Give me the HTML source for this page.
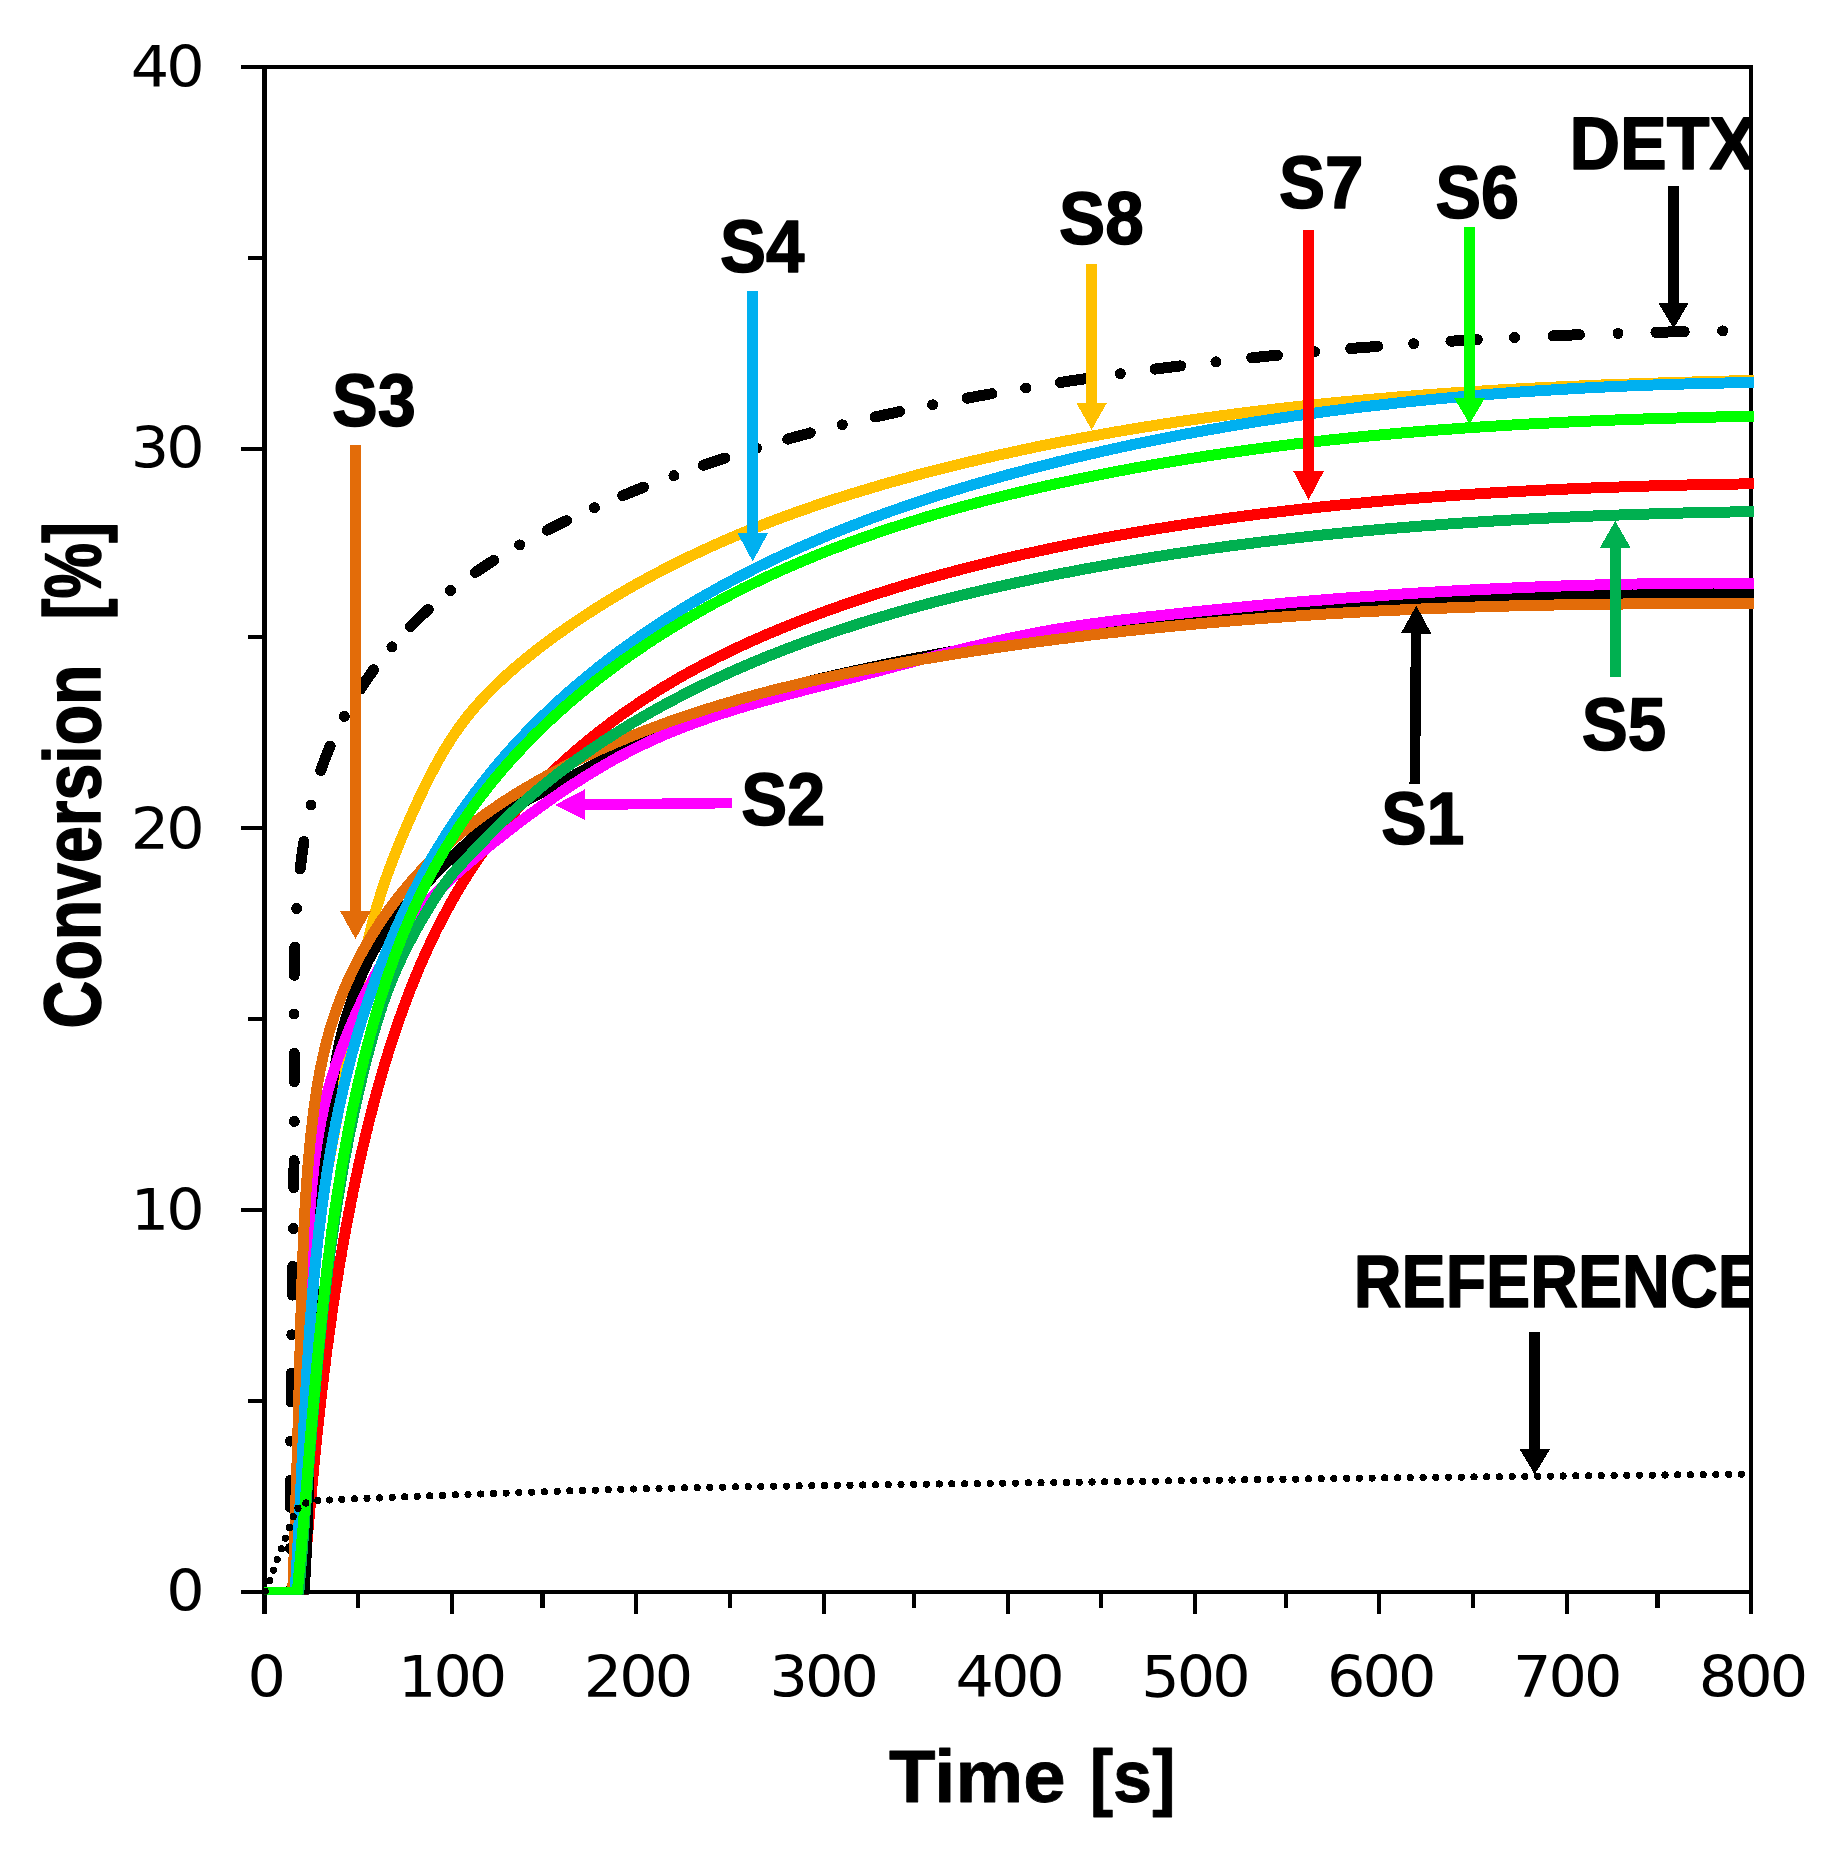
<!DOCTYPE html>
<html lang="en"><head><meta charset="utf-8"><title>Conversion vs Time</title>
<style>html,body{margin:0;padding:0;background:#fff}svg{display:block}</style></head>
<body>
<svg width="1833" height="1857" viewBox="0 0 1833 1857" shape-rendering="crispEdges">
<defs><clipPath id="pc"><rect x="263.8" y="60" width="1490.2" height="1534.8"/></clipPath></defs>
<rect width="1833" height="1857" fill="#fff"/>
<g fill="#000">
<rect x="262" y="65" width="5" height="1549"/>
<rect x="1749" y="65" width="4" height="1549"/>
<rect x="241" y="65" width="1512" height="4"/>
<rect x="241" y="1590" width="1512" height="4"/>
<rect x="241" y="447" width="22" height="4"/>
<rect x="241" y="826" width="22" height="4"/>
<rect x="241" y="1208" width="22" height="4"/>
<rect x="248" y="256" width="15" height="4"/>
<rect x="248" y="635" width="15" height="4"/>
<rect x="248" y="1017" width="15" height="4"/>
<rect x="248" y="1399" width="15" height="4"/>
<rect x="450" y="1592" width="4" height="22"/>
<rect x="634" y="1592" width="4" height="22"/>
<rect x="822" y="1592" width="4" height="22"/>
<rect x="1006" y="1592" width="4" height="22"/>
<rect x="1193" y="1592" width="4" height="22"/>
<rect x="1377" y="1592" width="4" height="22"/>
<rect x="1565" y="1592" width="4" height="22"/>
<rect x="356" y="1592" width="4" height="16"/>
<rect x="540" y="1592" width="5" height="16"/>
<rect x="728" y="1592" width="4" height="16"/>
<rect x="912" y="1592" width="4" height="16"/>
<rect x="1099" y="1592" width="4" height="16"/>
<rect x="1284" y="1592" width="4" height="16"/>
<rect x="1471" y="1592" width="4" height="16"/>
<rect x="1655" y="1592" width="5" height="16"/>
</g>
<g clip-path="url(#pc)">
<g fill="none" stroke="#000" stroke-width="11" stroke-linecap="round" stroke-linejoin="round">
<path d="M290.8,1590.1 L290.8,1589.5"/>
<path d="M290.3,1507.3 L290.3,1502.5 L290.3,1497.7 L290.3,1492.9 L290.3,1488.1 L290.4,1483.2 L290.4,1480.2"/>
<path d="M291.0,1402.0 L291.0,1397.2 L291.1,1392.4 L291.1,1387.6 L291.2,1382.8 L291.3,1378.0 L291.3,1373.2"/>
<path d="M292.4,1295.1 L292.5,1290.3 L292.5,1285.5 L292.6,1280.7 L292.7,1275.9 L292.8,1271.1 L292.8,1266.3"/>
<path d="M293.8,1187.6 L293.8,1182.8 L293.9,1178.0 L293.9,1173.2 L294.0,1168.4 L294.0,1163.6 L294.0,1160.6"/>
<path d="M294.3,1081.7 L294.3,1076.8 L294.3,1072.0 L294.3,1067.2 L294.2,1062.3 L294.2,1057.5 L294.2,1053.3"/>
<path d="M294.2,975.3 L294.3,970.5 L294.4,965.7 L294.5,960.9 L294.6,956.0 L294.7,951.2 L294.9,947.0"/>
<path d="M300.2,868.9 L300.8,864.1 L301.4,859.3 L302.0,854.6 L302.7,849.8 L303.4,845.0 L303.9,841.5"/>
<path d="M320.9,770.5 L322.4,766.0 L324.0,761.5 L325.7,757.1 L327.5,752.6 L329.3,748.2 L330.2,746.0"/>
<path d="M360.4,689.1 L363.0,685.1 L365.7,681.1 L368.4,677.1 L371.2,673.2 L373.6,669.8"/>
<path d="M410.5,626.5 L413.8,623.1 L417.3,619.7 L420.7,616.4 L424.2,613.1 L427.7,609.9 L428.2,609.5"/>
<path d="M475.2,572.5 L479.2,569.8 L483.2,567.2 L487.2,564.5 L491.3,561.9 L493.8,560.3"/>
<path d="M547.4,530.1 L551.8,527.9 L556.1,525.7 L560.5,523.6 L564.8,521.5 L566.5,520.7"/>
<path d="M622.8,495.6 L627.3,493.8 L631.8,491.9 L636.2,490.1 L640.7,488.3 L643.5,487.2"/>
<path d="M703.4,465.2 L707.9,463.7 L712.5,462.1 L717.1,460.6 L721.6,459.1 L725.0,458.0"/>
<path d="M787.7,439.1 L792.4,437.8 L797.0,436.5 L801.6,435.3 L806.3,434.0 L810.3,432.9"/>
<path d="M875.1,417.0 L879.8,416.0 L884.5,414.9 L889.2,413.9 L893.9,412.9 L898.6,411.8 L899.7,411.6"/>
<path d="M967.0,398.2 L971.7,397.3 L976.4,396.4 L981.2,395.6 L985.9,394.7 L990.7,393.9 L991.9,393.7"/>
<path d="M1060.2,382.5 L1064.9,381.8 L1069.7,381.0 L1074.5,380.3 L1079.2,379.6 L1084.0,378.9 L1085.8,378.6"/>
<path d="M1155.0,369.1 L1159.7,368.5 L1164.5,367.9 L1169.3,367.3 L1174.1,366.7 L1178.8,366.1 L1180.6,365.9"/>
<path d="M1251.8,357.8 L1256.6,357.3 L1261.4,356.8 L1266.2,356.3 L1271.0,355.8 L1275.7,355.4 L1277.5,355.2"/>
<path d="M1350.7,348.5 L1355.5,348.1 L1360.3,347.7 L1365.1,347.3 L1369.9,347.0 L1374.7,346.6 L1377.7,346.4"/>
<path d="M1450.9,341.2 L1455.7,340.9 L1460.5,340.6 L1465.3,340.4 L1470.1,340.1 L1474.9,339.8 L1477.3,339.6"/>
<path d="M1553.1,335.8 L1557.9,335.6 L1562.7,335.4 L1567.5,335.2 L1572.3,335.0 L1577.1,334.8 L1579.5,334.8"/>
<path d="M1655.9,332.3 L1660.7,332.2 L1665.5,332.1 L1670.4,331.9 L1675.2,331.8 L1680.0,331.7 L1684.2,331.6"/>
<path d="M1760.0,330.5 L1760.0,330.5"/>
</g>
<g fill="#000">
<circle cx="290.4" cy="1548.4" r="5.5"/>
<circle cx="290.6" cy="1441.1" r="5.5"/>
<circle cx="291.8" cy="1334.8" r="5.5"/>
<circle cx="293.3" cy="1228.5" r="5.5"/>
<circle cx="294.3" cy="1121.4" r="5.5"/>
<circle cx="294.0" cy="1014.0" r="5.5"/>
<circle cx="296.7" cy="908.5" r="5.5"/>
<circle cx="311.1" cy="805.0" r="5.5"/>
<circle cx="344.3" cy="716.4" r="5.5"/>
<circle cx="391.9" cy="646.8" r="5.5"/>
<circle cx="450.6" cy="590.6" r="5.5"/>
<circle cx="519.7" cy="544.9" r="5.5"/>
<circle cx="594.5" cy="507.8" r="5.5"/>
<circle cx="673.9" cy="475.7" r="5.5"/>
<circle cx="756.6" cy="448.1" r="5.5"/>
<circle cx="842.3" cy="424.8" r="5.5"/>
<circle cx="932.7" cy="404.8" r="5.5"/>
<circle cx="1025.7" cy="388.0" r="5.5"/>
<circle cx="1120.3" cy="373.7" r="5.5"/>
<circle cx="1215.9" cy="361.8" r="5.5"/>
<circle cx="1314.7" cy="351.7" r="5.5"/>
<circle cx="1413.7" cy="343.7" r="5.5"/>
<circle cx="1514.6" cy="337.6" r="5.5"/>
<circle cx="1618.0" cy="333.4" r="5.5"/>
<circle cx="1722.7" cy="330.9" r="5.5"/>
</g>
<g fill="none" stroke-width="11" stroke-linejoin="round" stroke-linecap="butt" shape-rendering="crispEdges">
<path d="M264.0,1592.0 L293.0,1592.0 L293.5,1592.0 L294.0,1587.4 L294.4,1582.9 L294.8,1578.4 L295.2,1573.9 L295.6,1569.4 L296.0,1564.8 L296.3,1560.3 L296.7,1555.8 L297.0,1551.3 L297.4,1546.7 L297.7,1542.2 L298.0,1537.7 L298.3,1533.1 L298.6,1528.6 L298.8,1524.1 L299.1,1519.5 L299.4,1515.0 L299.6,1510.4 L299.9,1505.9 L300.1,1501.4 L300.3,1496.8 L300.6,1492.3 L300.8,1487.7 L301.0,1483.2 L301.2,1478.7 L301.4,1474.1 L301.6,1469.6 L301.8,1465.0 L302.0,1460.5 L302.2,1455.9 L302.4,1451.4 L302.6,1446.9 L302.8,1442.3 L303.0,1437.8 L303.2,1433.2 L303.3,1428.7 L303.5,1424.1 L303.7,1419.6 L303.9,1415.0 L304.1,1410.5 L304.3,1406.0 L304.5,1401.4 L304.7,1396.9 L304.9,1392.3 L305.1,1387.8 L305.3,1383.2 L305.5,1378.7 L305.7,1374.2 L306.0,1369.6 L306.2,1365.1 L306.4,1360.5 L306.7,1356.0 L306.9,1351.5 L307.2,1346.9 L307.4,1342.4 L307.7,1337.8 L308.0,1333.3 L308.3,1328.8 L308.6,1324.2 L308.9,1319.7 L309.2,1315.2 L309.6,1310.7 L309.9,1306.1 L310.3,1301.6 L310.6,1297.1 L311.0,1292.5 L311.4,1288.0 L311.8,1283.5 L312.3,1279.0 L312.7,1274.5 L313.1,1270.0 L313.6,1265.4 L314.1,1260.9 L314.6,1256.4 L315.1,1251.9 L315.7,1247.4 L316.2,1242.9 L316.8,1238.4 L317.4,1233.9 L318.0,1229.4 L318.6,1224.9 L319.2,1220.4 L319.9,1215.9 L320.6,1211.4 L321.3,1206.9 L322.0,1202.4 L322.7,1198.0 L323.4,1193.5 L324.2,1189.0 L324.9,1184.5 L325.7,1180.0 L326.5,1175.5 L327.3,1171.1 L328.1,1166.6 L328.9,1162.1 L329.7,1157.6 L330.5,1153.2 L331.3,1148.7 L332.1,1144.2 L333.0,1139.7 L333.8,1135.3 L334.6,1130.8 L335.5,1126.3 L336.3,1121.8 L337.2,1117.4 L338.0,1112.9 L338.8,1108.4 L339.6,1103.9 L340.5,1099.4 L341.3,1095.0 L342.1,1090.5 L342.9,1086.0 L343.7,1081.5 L344.5,1077.0 L345.3,1072.6 L346.1,1068.1 L346.8,1063.6 L347.6,1059.1 L348.3,1054.6 L349.1,1050.1 L349.8,1045.6 L350.5,1041.1 L351.2,1036.7 L351.9,1032.2 L352.6,1027.7 L353.3,1023.2 L354.0,1018.7 L354.7,1014.2 L355.4,1009.7 L356.1,1005.2 L356.8,1000.7 L357.6,996.3 L358.3,991.8 L359.0,987.3 L359.8,982.8 L360.6,978.4 L361.4,973.9 L362.2,969.5 L363.0,965.0 L363.9,960.6 L364.8,956.1 L365.7,951.7 L366.6,947.3 L367.6,942.9 L368.6,938.4 L369.6,934.0 L370.7,929.6 L371.8,925.3 L372.9,920.9 L374.1,916.5 L375.3,912.2 L376.5,907.8 L377.8,903.5 L379.2,899.1 L380.5,894.8 L381.9,890.5 L383.4,886.2 L384.8,881.9 L386.3,877.6 L387.8,873.3 L389.4,869.1 L391.0,864.8 L392.6,860.5 L394.2,856.3 L395.9,852.1 L397.6,847.8 L399.3,843.6 L401.0,839.4 L402.8,835.2 L404.6,831.0 L406.4,826.8 L408.2,822.6 L410.1,818.4 L411.9,814.2 L413.8,810.1 L415.7,805.9 L417.6,801.7 L419.5,797.6 L421.5,793.5 L423.4,789.3 L425.4,785.2 L427.5,781.1 L429.5,777.1 L431.6,773.0 L433.7,769.0 L435.9,765.0 L438.0,761.0 L440.3,757.0 L442.5,753.1 L444.8,749.2 L447.2,745.4 L449.6,741.5 L452.0,737.7 L454.5,734.0 L457.1,730.3 L459.7,726.6 L462.3,723.0 L465.1,719.4 L467.8,715.9 L470.7,712.4 L473.5,708.9 L476.5,705.5 L479.5,702.2 L482.5,698.8 L485.6,695.6 L488.7,692.3 L491.9,689.1 L495.1,685.9 L498.3,682.8 L501.6,679.7 L504.9,676.6 L508.3,673.6 L511.7,670.6 L515.1,667.6 L518.6,664.6 L522.1,661.7 L525.6,658.8 L529.1,656.0 L532.7,653.1 L536.3,650.3 L539.9,647.5 L543.5,644.8 L547.2,642.0 L550.9,639.3 L554.5,636.6 L558.2,633.9 L562.0,631.3 L565.7,628.6 L569.4,626.0 L573.2,623.4 L577.0,620.9 L580.8,618.3 L584.6,615.8 L588.4,613.3 L592.2,610.8 L596.1,608.3 L599.9,605.9 L603.8,603.5 L607.7,601.1 L611.6,598.7 L615.5,596.3 L619.4,594.0 L623.3,591.7 L627.2,589.4 L631.2,587.2 L635.1,584.9 L639.1,582.7 L643.1,580.5 L647.1,578.3 L651.1,576.1 L655.1,574.0 L659.1,571.9 L663.1,569.8 L667.1,567.7 L671.2,565.6 L675.2,563.6 L679.3,561.6 L683.4,559.6 L687.5,557.6 L691.6,555.6 L695.7,553.7 L699.8,551.8 L703.9,549.8 L708.0,548.0 L712.1,546.1 L716.3,544.2 L720.4,542.4 L724.6,540.6 L728.7,538.8 L732.9,537.0 L737.1,535.2 L741.3,533.5 L745.5,531.8 L749.7,530.1 L753.9,528.4 L758.1,526.7 L762.3,525.0 L766.6,523.4 L770.8,521.7 L775.0,520.1 L779.3,518.5 L783.5,517.0 L787.8,515.4 L792.1,513.8 L796.3,512.3 L800.6,510.8 L804.9,509.3 L809.2,507.8 L813.5,506.3 L817.8,504.8 L822.1,503.4 L826.4,502.0 L830.7,500.5 L835.1,499.1 L839.4,497.7 L843.7,496.4 L848.1,495.0 L852.4,493.6 L856.8,492.3 L861.1,491.0 L865.5,489.7 L869.8,488.4 L874.2,487.1 L878.6,485.8 L882.9,484.5 L887.3,483.3 L891.7,482.0 L896.1,480.8 L900.4,479.6 L904.8,478.4 L909.2,477.2 L913.6,476.0 L918.0,474.8 L922.4,473.6 L926.8,472.5 L931.2,471.3 L935.6,470.2 L940.0,469.1 L944.4,468.0 L948.9,466.9 L953.3,465.8 L957.7,464.7 L962.1,463.6 L966.5,462.5 L970.9,461.5 L975.4,460.4 L979.8,459.4 L984.2,458.4 L988.7,457.3 L993.1,456.3 L997.5,455.3 L1002.0,454.3 L1006.4,453.4 L1010.8,452.4 L1015.3,451.4 L1019.7,450.5 L1024.2,449.5 L1028.6,448.6 L1033.0,447.6 L1037.5,446.7 L1041.9,445.8 L1046.4,444.9 L1050.8,444.0 L1055.3,443.1 L1059.8,442.2 L1064.2,441.3 L1068.7,440.5 L1073.1,439.6 L1077.6,438.8 L1082.1,437.9 L1086.5,437.1 L1091.0,436.3 L1095.5,435.5 L1099.9,434.7 L1104.4,433.9 L1108.9,433.1 L1113.3,432.3 L1117.8,431.5 L1122.3,430.8 L1126.8,430.0 L1131.2,429.2 L1135.7,428.5 L1140.2,427.8 L1144.7,427.0 L1149.2,426.3 L1153.7,425.6 L1158.1,424.9 L1162.6,424.2 L1167.1,423.5 L1171.6,422.8 L1176.1,422.1 L1180.6,421.5 L1185.1,420.8 L1189.6,420.2 L1194.1,419.5 L1198.6,418.9 L1203.1,418.2 L1207.6,417.6 L1212.1,417.0 L1216.6,416.4 L1221.1,415.8 L1225.6,415.2 L1230.1,414.6 L1234.6,414.0 L1239.1,413.4 L1243.6,412.8 L1248.1,412.3 L1252.6,411.7 L1257.1,411.2 L1261.6,410.6 L1266.2,410.1 L1270.7,409.5 L1275.2,409.0 L1279.7,408.5 L1284.2,408.0 L1288.7,407.5 L1293.3,407.0 L1297.8,406.5 L1302.3,406.0 L1306.8,405.5 L1311.3,405.0 L1315.9,404.6 L1320.4,404.1 L1324.9,403.6 L1329.4,403.2 L1333.9,402.7 L1338.5,402.3 L1343.0,401.9 L1347.5,401.4 L1352.1,401.0 L1356.6,400.6 L1361.1,400.2 L1365.6,399.8 L1370.2,399.3 L1374.7,399.0 L1379.2,398.6 L1383.8,398.2 L1388.3,397.8 L1392.8,397.4 L1397.4,397.0 L1401.9,396.7 L1406.4,396.3 L1411.0,396.0 L1415.5,395.6 L1420.0,395.3 L1424.6,394.9 L1429.1,394.6 L1433.6,394.3 L1438.2,393.9 L1442.7,393.6 L1447.2,393.3 L1451.8,393.0 L1456.3,392.7 L1460.9,392.4 L1465.4,392.1 L1469.9,391.8 L1474.5,391.5 L1479.0,391.2 L1483.6,390.9 L1488.1,390.6 L1492.6,390.4 L1497.2,390.1 L1501.7,389.8 L1506.3,389.6 L1510.8,389.3 L1515.3,389.1 L1519.9,388.8 L1524.4,388.6 L1529.0,388.3 L1533.5,388.1 L1538.1,387.9 L1542.6,387.6 L1547.1,387.4 L1551.7,387.2 L1556.2,387.0 L1560.8,386.8 L1565.3,386.6 L1569.9,386.4 L1574.4,386.1 L1578.9,386.0 L1583.5,385.8 L1588.0,385.6 L1592.6,385.4 L1597.1,385.2 L1601.7,385.0 L1606.2,384.8 L1610.7,384.7 L1615.3,384.5 L1619.8,384.3 L1624.4,384.1 L1628.9,384.0 L1633.4,383.8 L1638.0,383.7 L1642.5,383.5 L1647.1,383.4 L1651.6,383.2 L1656.1,383.1 L1660.7,382.9 L1665.2,382.8 L1669.8,382.6 L1674.3,382.5 L1678.8,382.4 L1683.4,382.2 L1687.9,382.1 L1692.4,382.0 L1697.0,381.9 L1701.5,381.7 L1706.1,381.6 L1710.6,381.5 L1715.1,381.4 L1719.7,381.3 L1724.2,381.2 L1728.7,381.0 L1733.3,380.9 L1737.8,380.8 L1742.3,380.7 L1746.9,380.6 L1751.4,380.5 L1755.9,380.4" stroke="#FFC000"/>
<path d="M264.0,1592.0 L302.3,1592.0 L302.8,1591.8 L303.2,1587.5 L303.5,1583.3 L303.9,1579.0 L304.2,1574.7 L304.6,1570.5 L304.9,1566.2 L305.3,1561.9 L305.7,1557.7 L306.0,1553.4 L306.4,1549.2 L306.7,1544.9 L307.1,1540.6 L307.5,1536.4 L307.8,1532.1 L308.2,1527.8 L308.6,1523.6 L309.0,1519.3 L309.3,1515.0 L309.7,1510.8 L310.1,1506.5 L310.5,1502.3 L310.9,1498.0 L311.3,1493.7 L311.7,1489.5 L312.1,1485.2 L312.5,1481.0 L312.9,1476.7 L313.3,1472.5 L313.7,1468.2 L314.1,1463.9 L314.5,1459.7 L314.9,1455.4 L315.4,1451.2 L315.8,1446.9 L316.2,1442.7 L316.7,1438.4 L317.1,1434.2 L317.6,1429.9 L318.0,1425.7 L318.5,1421.4 L318.9,1417.2 L319.4,1412.9 L319.9,1408.7 L320.3,1404.4 L320.8,1400.2 L321.3,1395.9 L321.8,1391.7 L322.3,1387.4 L322.8,1383.2 L323.3,1378.9 L323.8,1374.7 L324.3,1370.4 L324.9,1366.2 L325.4,1362.0 L325.9,1357.7 L326.5,1353.5 L327.0,1349.2 L327.6,1345.0 L328.2,1340.8 L328.7,1336.5 L329.3,1332.3 L329.9,1328.0 L330.5,1323.8 L331.1,1319.6 L331.7,1315.3 L332.3,1311.1 L332.9,1306.9 L333.5,1302.6 L334.2,1298.4 L334.8,1294.2 L335.5,1290.0 L336.1,1285.7 L336.8,1281.5 L337.5,1277.3 L338.2,1273.0 L338.8,1268.8 L339.5,1264.6 L340.3,1260.4 L341.0,1256.2 L341.7,1251.9 L342.4,1247.7 L343.2,1243.5 L343.9,1239.3 L344.7,1235.1 L345.5,1230.8 L346.2,1226.6 L347.0,1222.4 L347.8,1218.2 L348.6,1214.0 L349.5,1209.8 L350.3,1205.6 L351.1,1201.4 L352.0,1197.2 L352.8,1193.0 L353.7,1188.7 L354.6,1184.5 L355.5,1180.3 L356.4,1176.1 L357.3,1171.9 L358.2,1167.7 L359.1,1163.5 L360.1,1159.3 L361.0,1155.1 L362.0,1150.9 L362.9,1146.8 L363.9,1142.6 L364.9,1138.4 L365.9,1134.2 L367.0,1130.0 L368.0,1125.8 L369.0,1121.6 L370.1,1117.4 L371.2,1113.2 L372.2,1109.1 L373.3,1104.9 L374.4,1100.7 L375.6,1096.5 L376.7,1092.4 L377.8,1088.2 L379.0,1084.0 L380.2,1079.9 L381.4,1075.7 L382.6,1071.6 L383.8,1067.4 L385.0,1063.3 L386.3,1059.2 L387.6,1055.0 L388.8,1050.9 L390.1,1046.8 L391.5,1042.7 L392.8,1038.6 L394.1,1034.5 L395.5,1030.4 L396.9,1026.3 L398.3,1022.2 L399.7,1018.2 L401.2,1014.1 L402.6,1010.1 L404.1,1006.0 L405.6,1002.0 L407.1,998.0 L408.6,994.0 L410.2,990.0 L411.8,986.0 L413.4,982.0 L415.0,978.0 L416.6,974.0 L418.3,970.1 L419.9,966.2 L421.6,962.2 L423.4,958.3 L425.1,954.4 L426.9,950.5 L428.7,946.6 L430.5,942.8 L432.3,938.9 L434.1,935.1 L436.0,931.2 L437.9,927.4 L439.9,923.6 L441.8,919.8 L443.8,916.1 L445.8,912.3 L447.8,908.6 L449.8,904.9 L451.9,901.1 L454.0,897.5 L456.1,893.8 L458.3,890.1 L460.5,886.5 L462.7,882.8 L464.9,879.2 L467.2,875.6 L469.4,872.1 L471.8,868.5 L474.1,865.0 L476.5,861.4 L478.9,857.9 L481.3,854.5 L483.7,851.0 L486.2,847.6 L488.7,844.1 L491.3,840.7 L493.8,837.3 L496.4,834.0 L499.0,830.6 L501.7,827.3 L504.3,824.0 L507.0,820.7 L509.8,817.4 L512.5,814.2 L515.3,811.0 L518.1,807.8 L520.9,804.6 L523.8,801.4 L526.6,798.3 L529.5,795.1 L532.5,792.0 L535.4,788.9 L538.4,785.9 L541.4,782.8 L544.4,779.8 L547.4,776.8 L550.5,773.8 L553.6,770.9 L556.7,767.9 L559.8,765.0 L563.0,762.1 L566.1,759.3 L569.3,756.4 L572.5,753.6 L575.8,750.8 L579.0,748.0 L582.3,745.2 L585.6,742.5 L588.9,739.7 L592.2,737.0 L595.6,734.4 L599.0,731.7 L602.3,729.1 L605.7,726.5 L609.2,723.9 L612.6,721.3 L616.1,718.8 L619.5,716.2 L623.0,713.7 L626.5,711.3 L630.1,708.8 L633.6,706.4 L637.2,704.0 L640.7,701.6 L644.3,699.2 L647.9,696.9 L651.6,694.6 L655.2,692.3 L658.8,690.0 L662.5,687.7 L666.2,685.5 L669.9,683.3 L673.6,681.1 L677.3,679.0 L681.0,676.8 L684.8,674.7 L688.5,672.6 L692.3,670.6 L696.1,668.5 L699.9,666.5 L703.7,664.5 L707.5,662.5 L711.3,660.5 L715.2,658.5 L719.0,656.6 L722.9,654.7 L726.7,652.8 L730.6,650.9 L734.5,649.1 L738.4,647.2 L742.3,645.4 L746.2,643.6 L750.1,641.8 L754.1,640.1 L758.0,638.3 L762.0,636.6 L765.9,634.9 L769.9,633.2 L773.9,631.5 L777.9,629.9 L781.9,628.2 L785.8,626.6 L789.8,625.0 L793.9,623.4 L797.9,621.8 L801.9,620.2 L805.9,618.7 L810.0,617.1 L814.0,615.6 L818.0,614.1 L822.1,612.6 L826.1,611.1 L830.2,609.7 L834.2,608.2 L838.3,606.8 L842.4,605.3 L846.4,603.9 L850.5,602.5 L854.6,601.2 L858.7,599.8 L862.8,598.4 L866.8,597.1 L870.9,595.7 L875.0,594.4 L879.1,593.1 L883.2,591.8 L887.3,590.5 L891.4,589.2 L895.5,588.0 L899.6,586.7 L903.7,585.5 L907.8,584.2 L912.0,583.0 L916.1,581.8 L920.2,580.6 L924.3,579.4 L928.4,578.3 L932.6,577.1 L936.7,576.0 L940.8,574.8 L945.0,573.7 L949.1,572.6 L953.2,571.5 L957.4,570.4 L961.5,569.3 L965.7,568.2 L969.8,567.2 L974.0,566.1 L978.1,565.1 L982.3,564.0 L986.4,563.0 L990.6,562.0 L994.8,561.0 L998.9,560.0 L1003.1,559.0 L1007.3,558.0 L1011.4,557.1 L1015.6,556.1 L1019.8,555.2 L1023.9,554.2 L1028.1,553.3 L1032.3,552.4 L1036.5,551.5 L1040.7,550.6 L1044.9,549.7 L1049.0,548.8 L1053.2,547.9 L1057.4,547.0 L1061.6,546.2 L1065.8,545.3 L1070.0,544.5 L1074.2,543.7 L1078.4,542.8 L1082.6,542.0 L1086.8,541.2 L1091.0,540.4 L1095.2,539.6 L1099.4,538.8 L1103.6,538.0 L1107.8,537.3 L1112.0,536.5 L1116.2,535.8 L1120.4,535.0 L1124.7,534.3 L1128.9,533.5 L1133.1,532.8 L1137.3,532.1 L1141.5,531.4 L1145.8,530.7 L1150.0,530.0 L1154.2,529.3 L1158.4,528.6 L1162.6,527.9 L1166.9,527.2 L1171.1,526.6 L1175.3,525.9 L1179.6,525.3 L1183.8,524.6 L1188.0,524.0 L1192.2,523.3 L1196.5,522.7 L1200.7,522.1 L1204.9,521.5 L1209.2,520.9 L1213.4,520.3 L1217.7,519.7 L1221.9,519.1 L1226.1,518.5 L1230.4,517.9 L1234.6,517.3 L1238.9,516.8 L1243.1,516.2 L1247.4,515.7 L1251.6,515.1 L1255.9,514.6 L1260.1,514.0 L1264.3,513.5 L1268.6,513.0 L1272.8,512.5 L1277.1,512.0 L1281.4,511.5 L1285.6,511.0 L1289.9,510.5 L1294.1,510.0 L1298.4,509.5 L1302.6,509.0 L1306.9,508.5 L1311.1,508.1 L1315.4,507.6 L1319.7,507.1 L1323.9,506.7 L1328.2,506.3 L1332.4,505.8 L1336.7,505.4 L1341.0,504.9 L1345.2,504.5 L1349.5,504.1 L1353.8,503.7 L1358.0,503.3 L1362.3,502.9 L1366.5,502.5 L1370.8,502.1 L1375.1,501.7 L1379.4,501.3 L1383.6,500.9 L1387.9,500.6 L1392.2,500.2 L1396.4,499.8 L1400.7,499.5 L1405.0,499.1 L1409.2,498.8 L1413.5,498.4 L1417.8,498.1 L1422.1,497.8 L1426.3,497.4 L1430.6,497.1 L1434.9,496.8 L1439.2,496.5 L1443.4,496.2 L1447.7,495.8 L1452.0,495.5 L1456.3,495.2 L1460.5,495.0 L1464.8,494.7 L1469.1,494.4 L1473.4,494.1 L1477.7,493.8 L1481.9,493.6 L1486.2,493.3 L1490.5,493.0 L1494.8,492.8 L1499.1,492.5 L1503.3,492.3 L1507.6,492.0 L1511.9,491.8 L1516.2,491.5 L1520.5,491.3 L1524.7,491.1 L1529.0,490.8 L1533.3,490.6 L1537.6,490.4 L1541.9,490.2 L1546.2,490.0 L1550.4,489.8 L1554.7,489.6 L1559.0,489.4 L1563.3,489.2 L1567.6,489.0 L1571.9,488.8 L1576.1,488.6 L1580.4,488.4 L1584.7,488.3 L1589.0,488.1 L1593.3,487.9 L1597.6,487.7 L1601.8,487.6 L1606.1,487.4 L1610.4,487.3 L1614.7,487.1 L1619.0,487.0 L1623.3,486.8 L1627.5,486.7 L1631.8,486.5 L1636.1,486.4 L1640.4,486.3 L1644.7,486.1 L1649.0,486.0 L1653.2,485.9 L1657.5,485.8 L1661.8,485.6 L1666.1,485.5 L1670.4,485.4 L1674.7,485.3 L1678.9,485.2 L1683.2,485.1 L1687.5,485.0 L1691.8,484.9 L1696.1,484.8 L1700.3,484.7 L1704.6,484.6 L1708.9,484.5 L1713.2,484.5 L1717.5,484.4 L1721.8,484.3 L1726.0,484.2 L1730.3,484.1 L1734.6,484.1 L1738.9,484.0 L1743.1,483.9 L1747.4,483.9 L1751.7,483.8 L1756.0,483.8" stroke="#FF0000"/>
<path d="M264.0,1592.0 L303.6,1592.0 L304.1,1592.0 L304.4,1587.8 L304.6,1583.5 L304.9,1579.2 L305.1,1575.0 L305.4,1570.7 L305.6,1566.4 L305.8,1562.2 L306.0,1557.9 L306.2,1553.7 L306.4,1549.4 L306.6,1545.1 L306.8,1540.9 L306.9,1536.6 L307.1,1532.4 L307.2,1528.1 L307.4,1523.8 L307.5,1519.6 L307.6,1515.3 L307.8,1511.0 L307.9,1506.8 L308.0,1502.5 L308.1,1498.3 L308.2,1494.0 L308.3,1489.7 L308.4,1485.5 L308.5,1481.2 L308.6,1477.0 L308.6,1472.7 L308.7,1468.4 L308.8,1464.2 L308.9,1459.9 L308.9,1455.7 L309.0,1451.4 L309.1,1447.1 L309.1,1442.9 L309.2,1438.6 L309.3,1434.3 L309.3,1430.1 L309.4,1425.8 L309.5,1421.6 L309.5,1417.3 L309.6,1413.0 L309.7,1408.8 L309.7,1404.5 L309.8,1400.3 L309.9,1396.0 L309.9,1391.7 L310.0,1387.5 L310.1,1383.2 L310.2,1378.9 L310.3,1374.7 L310.4,1370.4 L310.5,1366.2 L310.6,1361.9 L310.7,1357.6 L310.8,1353.4 L310.9,1349.1 L311.0,1344.8 L311.2,1340.6 L311.3,1336.3 L311.4,1332.1 L311.6,1327.8 L311.8,1323.5 L311.9,1319.3 L312.1,1315.0 L312.3,1310.7 L312.5,1306.5 L312.7,1302.2 L312.9,1298.0 L313.1,1293.7 L313.3,1289.4 L313.5,1285.2 L313.7,1280.9 L314.0,1276.6 L314.2,1272.4 L314.5,1268.1 L314.7,1263.9 L315.0,1259.6 L315.3,1255.3 L315.6,1251.1 L315.9,1246.8 L316.2,1242.6 L316.5,1238.3 L316.8,1234.1 L317.1,1229.8 L317.4,1225.5 L317.7,1221.3 L318.1,1217.0 L318.4,1212.8 L318.8,1208.5 L319.2,1204.3 L319.5,1200.0 L319.9,1195.8 L320.3,1191.5 L320.7,1187.3 L321.1,1183.0 L321.5,1178.8 L321.9,1174.6 L322.3,1170.3 L322.7,1166.1 L323.2,1161.8 L323.6,1157.6 L324.1,1153.3 L324.5,1149.1 L325.0,1144.9 L325.5,1140.6 L325.9,1136.4 L326.4,1132.2 L326.9,1127.9 L327.4,1123.7 L327.9,1119.5 L328.4,1115.3 L328.9,1111.0 L329.5,1106.8 L330.0,1102.6 L330.6,1098.4 L331.1,1094.2 L331.7,1090.0 L332.2,1085.7 L332.8,1081.5 L333.4,1077.3 L334.1,1073.1 L334.7,1068.9 L335.4,1064.7 L336.1,1060.6 L336.9,1056.4 L337.7,1052.2 L338.5,1048.0 L339.4,1043.9 L340.3,1039.7 L341.3,1035.6 L342.3,1031.4 L343.4,1027.3 L344.5,1023.2 L345.7,1019.0 L347.0,1014.9 L348.3,1010.9 L349.6,1006.8 L351.0,1002.7 L352.4,998.7 L353.9,994.6 L355.4,990.6 L356.9,986.6 L358.5,982.6 L360.2,978.6 L361.8,974.7 L363.5,970.8 L365.3,966.9 L367.1,963.0 L369.0,959.2 L371.0,955.5 L373.0,951.8 L375.2,948.1 L377.3,944.5 L379.5,940.9 L381.8,937.3 L384.2,933.8 L386.6,930.3 L389.0,926.9 L391.5,923.5 L394.1,920.1 L396.7,916.8 L399.3,913.5 L402.0,910.2 L404.7,906.9 L407.5,903.7 L410.3,900.5 L413.1,897.3 L415.9,894.2 L418.8,891.0 L421.7,887.9 L424.7,884.8 L427.6,881.7 L430.6,878.7 L433.6,875.6 L436.6,872.6 L439.6,869.5 L442.7,866.5 L445.7,863.5 L448.8,860.5 L451.8,857.5 L454.9,854.6 L457.9,851.6 L461.0,848.6 L464.1,845.7 L467.2,842.8 L470.3,839.9 L473.5,837.1 L476.7,834.3 L479.9,831.5 L483.1,828.8 L486.4,826.1 L489.7,823.5 L493.1,821.0 L496.5,818.5 L500.0,816.1 L503.5,813.7 L507.1,811.5 L510.7,809.3 L514.3,807.1 L518.0,805.0 L521.8,803.0 L525.5,800.9 L529.3,798.9 L533.1,797.0 L536.9,795.0 L540.7,793.1 L544.5,791.1 L548.3,789.2 L552.1,787.2 L555.9,785.2 L559.7,783.2 L563.5,781.2 L567.3,779.1 L571.0,777.1 L574.8,775.1 L578.5,773.0 L582.3,771.0 L586.0,768.9 L589.8,766.8 L593.5,764.8 L597.2,762.7 L601.0,760.7 L604.7,758.6 L608.5,756.6 L612.2,754.6 L616.0,752.6 L619.7,750.6 L623.5,748.6 L627.3,746.6 L631.1,744.7 L634.8,742.7 L638.6,740.8 L642.4,738.9 L646.3,737.1 L650.1,735.3 L653.9,733.4 L657.8,731.7 L661.7,729.9 L665.5,728.2 L669.4,726.5 L673.3,724.8 L677.3,723.2 L681.2,721.6 L685.1,720.0 L689.1,718.4 L693.0,716.9 L697.0,715.4 L701.0,713.9 L705.0,712.4 L709.0,710.9 L713.0,709.5 L717.0,708.1 L721.0,706.7 L725.1,705.4 L729.1,704.0 L733.2,702.7 L737.2,701.4 L741.3,700.1 L745.4,698.8 L749.5,697.6 L753.6,696.4 L757.7,695.2 L761.8,694.0 L765.9,692.8 L770.0,691.6 L774.1,690.5 L778.2,689.4 L782.4,688.2 L786.5,687.1 L790.6,686.1 L794.8,685.0 L798.9,683.9 L803.1,682.9 L807.2,681.8 L811.4,680.8 L815.5,679.8 L819.7,678.8 L823.9,677.8 L828.0,676.9 L832.2,675.9 L836.4,674.9 L840.6,674.0 L844.7,673.0 L848.9,672.1 L853.1,671.2 L857.3,670.3 L861.4,669.4 L865.6,668.5 L869.8,667.6 L874.0,666.7 L878.1,665.8 L882.3,664.9 L886.5,664.1 L890.7,663.2 L894.9,662.4 L899.0,661.5 L903.2,660.7 L907.4,659.9 L911.6,659.0 L915.8,658.2 L920.0,657.4 L924.2,656.6 L928.3,655.8 L932.5,655.0 L936.7,654.2 L940.9,653.5 L945.1,652.7 L949.3,651.9 L953.5,651.2 L957.7,650.4 L961.9,649.7 L966.1,649.0 L970.3,648.2 L974.5,647.5 L978.7,646.8 L982.9,646.1 L987.0,645.4 L991.2,644.7 L995.4,644.0 L999.7,643.3 L1003.9,642.6 L1008.1,642.0 L1012.3,641.3 L1016.5,640.6 L1020.7,640.0 L1024.9,639.3 L1029.1,638.7 L1033.3,638.0 L1037.5,637.4 L1041.7,636.8 L1045.9,636.1 L1050.1,635.5 L1054.4,634.9 L1058.6,634.3 L1062.8,633.7 L1067.0,633.1 L1071.2,632.5 L1075.4,631.9 L1079.7,631.4 L1083.9,630.8 L1088.1,630.2 L1092.3,629.6 L1096.5,629.1 L1100.8,628.5 L1105.0,628.0 L1109.2,627.4 L1113.5,626.9 L1117.7,626.4 L1121.9,625.8 L1126.1,625.3 L1130.4,624.8 L1134.6,624.3 L1138.8,623.8 L1143.1,623.3 L1147.3,622.8 L1151.5,622.3 L1155.8,621.8 L1160.0,621.3 L1164.2,620.8 L1168.5,620.3 L1172.7,619.9 L1177.0,619.4 L1181.2,618.9 L1185.4,618.5 L1189.7,618.0 L1193.9,617.6 L1198.2,617.1 L1202.4,616.7 L1206.7,616.3 L1210.9,615.8 L1215.1,615.4 L1219.4,615.0 L1223.6,614.6 L1227.9,614.2 L1232.1,613.8 L1236.4,613.4 L1240.6,613.0 L1244.9,612.6 L1249.1,612.2 L1253.4,611.8 L1257.6,611.4 L1261.9,611.1 L1266.1,610.7 L1270.4,610.3 L1274.6,610.0 L1278.9,609.6 L1283.1,609.3 L1287.4,608.9 L1291.6,608.6 L1295.9,608.2 L1300.1,607.9 L1304.4,607.6 L1308.6,607.2 L1312.9,606.9 L1317.2,606.6 L1321.4,606.3 L1325.7,606.0 L1329.9,605.7 L1334.2,605.4 L1338.4,605.1 L1342.7,604.8 L1347.0,604.5 L1351.2,604.2 L1355.5,604.0 L1359.7,603.7 L1364.0,603.4 L1368.2,603.1 L1372.5,602.9 L1376.8,602.6 L1381.0,602.4 L1385.3,602.1 L1389.5,601.9 L1393.8,601.6 L1398.0,601.4 L1402.3,601.2 L1406.6,600.9 L1410.8,600.7 L1415.1,600.5 L1419.3,600.3 L1423.6,600.0 L1427.9,599.8 L1432.1,599.6 L1436.4,599.4 L1440.6,599.2 L1444.9,599.0 L1449.2,598.8 L1453.4,598.6 L1457.7,598.5 L1461.9,598.3 L1466.2,598.1 L1470.4,597.9 L1474.7,597.8 L1479.0,597.6 L1483.2,597.4 L1487.5,597.3 L1491.7,597.1 L1496.0,597.0 L1500.3,596.8 L1504.5,596.7 L1508.8,596.5 L1513.0,596.4 L1517.3,596.2 L1521.6,596.1 L1525.8,596.0 L1530.1,595.8 L1534.3,595.7 L1538.6,595.6 L1542.8,595.5 L1547.1,595.4 L1551.4,595.3 L1555.6,595.2 L1559.9,595.0 L1564.1,594.9 L1568.4,594.8 L1572.7,594.8 L1576.9,594.7 L1581.2,594.6 L1585.4,594.5 L1589.7,594.4 L1594.0,594.3 L1598.2,594.2 L1602.5,594.2 L1606.7,594.1 L1611.0,594.0 L1615.3,594.0 L1619.5,593.9 L1623.8,593.8 L1628.0,593.8 L1632.3,593.7 L1636.6,593.7 L1640.8,593.6 L1645.1,593.6 L1649.4,593.5 L1653.6,593.5 L1657.9,593.4 L1662.1,593.4 L1666.4,593.4 L1670.7,593.3 L1674.9,593.3 L1679.2,593.3 L1683.5,593.2 L1687.7,593.2 L1692.0,593.2 L1696.3,593.2 L1700.5,593.2 L1704.8,593.1 L1709.1,593.1 L1713.3,593.1 L1717.6,593.1 L1721.9,593.1 L1726.1,593.1 L1730.4,593.1 L1734.7,593.1 L1738.9,593.1 L1743.2,593.1 L1747.5,593.1 L1751.7,593.1 L1756.0,593.1" stroke="#000000"/>
<path d="M264.0,1592.0 L295.8,1592.0 L296.3,1592.0 L296.4,1587.8 L296.6,1583.5 L296.8,1579.3 L296.9,1575.0 L297.1,1570.8 L297.2,1566.5 L297.4,1562.3 L297.5,1558.1 L297.7,1553.8 L297.8,1549.6 L298.0,1545.3 L298.1,1541.1 L298.2,1536.8 L298.4,1532.6 L298.5,1528.4 L298.6,1524.1 L298.7,1519.9 L298.8,1515.6 L299.0,1511.4 L299.1,1507.2 L299.2,1502.9 L299.3,1498.7 L299.4,1494.4 L299.5,1490.2 L299.6,1485.9 L299.7,1481.7 L299.8,1477.5 L300.0,1473.2 L300.1,1469.0 L300.2,1464.7 L300.3,1460.5 L300.4,1456.3 L300.5,1452.0 L300.6,1447.8 L300.7,1443.5 L300.8,1439.3 L300.9,1435.0 L301.0,1430.8 L301.1,1426.6 L301.2,1422.3 L301.3,1418.1 L301.4,1413.8 L301.5,1409.6 L301.6,1405.4 L301.7,1401.1 L301.8,1396.9 L301.9,1392.6 L302.1,1388.4 L302.2,1384.1 L302.3,1379.9 L302.4,1375.7 L302.5,1371.4 L302.7,1367.2 L302.8,1362.9 L302.9,1358.7 L303.0,1354.4 L303.2,1350.2 L303.3,1346.0 L303.4,1341.7 L303.6,1337.5 L303.7,1333.2 L303.9,1329.0 L304.0,1324.8 L304.2,1320.5 L304.4,1316.3 L304.5,1312.0 L304.7,1307.8 L304.9,1303.6 L305.0,1299.3 L305.2,1295.1 L305.4,1290.8 L305.6,1286.6 L305.8,1282.3 L306.0,1278.1 L306.2,1273.9 L306.4,1269.6 L306.6,1265.4 L306.8,1261.1 L307.0,1256.9 L307.3,1252.7 L307.5,1248.4 L307.8,1244.2 L308.0,1239.9 L308.3,1235.7 L308.5,1231.4 L308.8,1227.2 L309.1,1223.0 L309.3,1218.7 L309.6,1214.5 L309.9,1210.2 L310.3,1206.0 L310.6,1201.8 L310.9,1197.5 L311.3,1193.3 L311.6,1189.1 L312.0,1184.9 L312.4,1180.6 L312.9,1176.4 L313.3,1172.2 L313.8,1168.0 L314.3,1163.8 L314.8,1159.6 L315.4,1155.4 L315.9,1151.2 L316.5,1147.0 L317.2,1142.8 L317.8,1138.6 L318.5,1134.4 L319.2,1130.3 L320.0,1126.1 L320.8,1122.0 L321.6,1117.8 L322.5,1113.7 L323.4,1109.6 L324.3,1105.4 L325.3,1101.3 L326.3,1097.2 L327.4,1093.1 L328.5,1089.0 L329.6,1084.9 L330.8,1080.9 L332.0,1076.8 L333.3,1072.8 L334.6,1068.7 L335.9,1064.7 L337.3,1060.6 L338.7,1056.6 L340.2,1052.6 L341.6,1048.6 L343.1,1044.6 L344.7,1040.7 L346.2,1036.7 L347.8,1032.7 L349.4,1028.8 L351.1,1024.8 L352.8,1020.9 L354.5,1017.0 L356.2,1013.1 L358.0,1009.2 L359.8,1005.3 L361.7,1001.4 L363.5,997.6 L365.4,993.8 L367.4,989.9 L369.3,986.1 L371.3,982.4 L373.3,978.6 L375.4,974.9 L377.5,971.2 L379.6,967.5 L381.8,963.8 L384.0,960.1 L386.2,956.5 L388.5,952.9 L390.8,949.4 L393.1,945.8 L395.5,942.3 L397.9,938.8 L400.4,935.4 L402.9,931.9 L405.4,928.6 L408.0,925.2 L410.6,921.9 L413.2,918.6 L415.9,915.3 L418.6,912.1 L421.4,908.9 L424.2,905.8 L427.0,902.7 L429.9,899.6 L432.8,896.5 L435.7,893.5 L438.7,890.6 L441.7,887.6 L444.7,884.7 L447.8,881.8 L450.9,878.9 L454.0,876.0 L457.2,873.2 L460.3,870.4 L463.5,867.6 L466.7,864.8 L469.9,862.1 L473.2,859.3 L476.4,856.6 L479.7,853.9 L482.9,851.2 L486.2,848.5 L489.5,845.8 L492.8,843.2 L496.2,840.5 L499.5,837.9 L502.8,835.2 L506.2,832.6 L509.5,830.0 L512.9,827.4 L516.3,824.8 L519.7,822.2 L523.1,819.6 L526.5,817.1 L529.9,814.5 L533.4,812.0 L536.8,809.5 L540.3,807.0 L543.7,804.5 L547.2,802.0 L550.7,799.6 L554.2,797.1 L557.7,794.7 L561.2,792.3 L564.7,789.9 L568.3,787.6 L571.8,785.2 L575.4,782.9 L579.0,780.6 L582.6,778.3 L586.2,776.0 L589.8,773.8 L593.4,771.6 L597.0,769.4 L600.7,767.2 L604.3,765.1 L608.0,763.0 L611.7,760.9 L615.4,758.8 L619.1,756.8 L622.9,754.8 L626.6,752.8 L630.3,750.9 L634.1,748.9 L637.9,747.1 L641.7,745.2 L645.5,743.4 L649.3,741.6 L653.2,739.8 L657.0,738.1 L660.9,736.4 L664.7,734.7 L668.6,733.1 L672.5,731.4 L676.4,729.9 L680.4,728.3 L684.3,726.8 L688.3,725.3 L692.2,723.8 L696.2,722.3 L700.2,720.9 L704.2,719.5 L708.2,718.1 L712.2,716.8 L716.2,715.4 L720.2,714.1 L724.2,712.8 L728.3,711.5 L732.3,710.2 L736.4,709.0 L740.5,707.7 L744.5,706.5 L748.6,705.3 L752.7,704.1 L756.8,703.0 L760.9,701.8 L765.0,700.6 L769.1,699.5 L773.2,698.4 L777.3,697.3 L781.4,696.1 L785.5,695.0 L789.6,694.0 L793.8,692.9 L797.9,691.8 L802.0,690.7 L806.1,689.6 L810.3,688.6 L814.4,687.5 L818.5,686.4 L822.7,685.4 L826.8,684.3 L830.9,683.3 L835.1,682.2 L839.2,681.1 L843.3,680.1 L847.4,679.0 L851.6,677.9 L855.7,676.9 L859.8,675.8 L863.9,674.7 L868.0,673.6 L872.1,672.5 L876.3,671.5 L880.4,670.4 L884.5,669.3 L888.6,668.2 L892.7,667.1 L896.8,666.0 L900.9,664.9 L905.0,663.9 L909.1,662.8 L913.2,661.7 L917.3,660.6 L921.4,659.6 L925.5,658.5 L929.6,657.4 L933.7,656.4 L937.8,655.3 L941.9,654.3 L946.1,653.2 L950.2,652.2 L954.3,651.1 L958.4,650.1 L962.5,649.1 L966.6,648.1 L970.7,647.1 L974.8,646.1 L978.9,645.1 L983.1,644.2 L987.2,643.2 L991.3,642.3 L995.4,641.3 L999.6,640.4 L1003.7,639.5 L1007.8,638.6 L1012.0,637.7 L1016.1,636.9 L1020.2,636.0 L1024.4,635.2 L1028.5,634.3 L1032.7,633.5 L1036.9,632.7 L1041.0,632.0 L1045.2,631.2 L1049.4,630.5 L1053.5,629.7 L1057.7,629.0 L1061.9,628.3 L1066.1,627.7 L1070.3,627.0 L1074.5,626.4 L1078.6,625.7 L1082.8,625.1 L1087.1,624.5 L1091.3,623.9 L1095.5,623.4 L1099.7,622.8 L1103.9,622.2 L1108.1,621.7 L1112.3,621.2 L1116.5,620.6 L1120.8,620.1 L1125.0,619.6 L1129.2,619.1 L1133.4,618.6 L1137.6,618.1 L1141.9,617.6 L1146.1,617.1 L1150.3,616.6 L1154.5,616.2 L1158.8,615.7 L1163.0,615.2 L1167.2,614.8 L1171.4,614.3 L1175.7,613.8 L1179.9,613.4 L1184.1,612.9 L1188.3,612.5 L1192.6,612.0 L1196.8,611.6 L1201.0,611.1 L1205.2,610.7 L1209.5,610.3 L1213.7,609.8 L1217.9,609.4 L1222.1,609.0 L1226.4,608.6 L1230.6,608.2 L1234.8,607.7 L1239.1,607.3 L1243.3,606.9 L1247.5,606.5 L1251.7,606.1 L1256.0,605.7 L1260.2,605.3 L1264.4,604.9 L1268.7,604.5 L1272.9,604.2 L1277.1,603.8 L1281.3,603.4 L1285.6,603.0 L1289.8,602.7 L1294.0,602.3 L1298.3,601.9 L1302.5,601.6 L1306.7,601.2 L1310.9,600.9 L1315.2,600.5 L1319.4,600.2 L1323.6,599.8 L1327.9,599.5 L1332.1,599.1 L1336.3,598.8 L1340.5,598.5 L1344.8,598.1 L1349.0,597.8 L1353.2,597.5 L1357.5,597.2 L1361.7,596.9 L1365.9,596.6 L1370.2,596.3 L1374.4,596.0 L1378.6,595.7 L1382.9,595.4 L1387.1,595.1 L1391.3,594.8 L1395.6,594.5 L1399.8,594.2 L1404.0,593.9 L1408.3,593.7 L1412.5,593.4 L1416.7,593.1 L1421.0,592.8 L1425.2,592.6 L1429.4,592.3 L1433.7,592.1 L1437.9,591.8 L1442.1,591.6 L1446.4,591.3 L1450.6,591.1 L1454.8,590.8 L1459.1,590.6 L1463.3,590.4 L1467.5,590.2 L1471.8,589.9 L1476.0,589.7 L1480.2,589.5 L1484.5,589.3 L1488.7,589.1 L1493.0,588.9 L1497.2,588.7 L1501.4,588.5 L1505.7,588.3 L1509.9,588.1 L1514.1,587.9 L1518.4,587.7 L1522.6,587.5 L1526.9,587.3 L1531.1,587.2 L1535.3,587.0 L1539.6,586.8 L1543.8,586.7 L1548.0,586.5 L1552.3,586.3 L1556.5,586.2 L1560.8,586.0 L1565.0,585.9 L1569.2,585.8 L1573.5,585.6 L1577.7,585.5 L1582.0,585.4 L1586.2,585.2 L1590.5,585.1 L1594.7,585.0 L1598.9,584.9 L1603.2,584.7 L1607.4,584.6 L1611.7,584.5 L1615.9,584.4 L1620.1,584.3 L1624.4,584.2 L1628.6,584.1 L1632.9,584.0 L1637.1,584.0 L1641.4,583.9 L1645.6,583.8 L1649.9,583.7 L1654.1,583.7 L1658.3,583.6 L1662.6,583.5 L1666.8,583.5 L1671.1,583.4 L1675.3,583.4 L1679.6,583.3 L1683.8,583.3 L1688.1,583.2 L1692.3,583.2 L1696.6,583.1 L1700.8,583.1 L1705.0,583.1 L1709.3,583.1 L1713.5,583.0 L1717.8,583.0 L1722.0,583.0 L1726.3,583.0 L1730.5,583.0 L1734.8,583.0 L1739.0,583.0 L1743.3,583.0 L1747.5,583.0 L1751.8,583.0 L1756.0,583.0" stroke="#FF00FF"/>
<path d="M264.0,1592.0 L292.2,1592.0 L292.7,1592.0 L292.9,1587.7 L293.0,1583.4 L293.2,1579.1 L293.3,1574.9 L293.5,1570.6 L293.7,1566.3 L293.8,1562.0 L294.0,1557.7 L294.1,1553.4 L294.3,1549.2 L294.4,1544.9 L294.5,1540.6 L294.7,1536.3 L294.8,1532.0 L295.0,1527.7 L295.1,1523.4 L295.3,1519.2 L295.4,1514.9 L295.5,1510.6 L295.7,1506.3 L295.8,1502.0 L295.9,1497.7 L296.1,1493.4 L296.2,1489.2 L296.3,1484.9 L296.5,1480.6 L296.6,1476.3 L296.7,1472.0 L296.8,1467.7 L297.0,1463.4 L297.1,1459.2 L297.2,1454.9 L297.3,1450.6 L297.5,1446.3 L297.6,1442.0 L297.7,1437.7 L297.8,1433.4 L298.0,1429.2 L298.1,1424.9 L298.2,1420.6 L298.3,1416.3 L298.4,1412.0 L298.5,1407.7 L298.7,1403.5 L298.8,1399.2 L298.9,1394.9 L299.0,1390.6 L299.1,1386.3 L299.2,1382.0 L299.4,1377.7 L299.5,1373.5 L299.6,1369.2 L299.7,1364.9 L299.8,1360.6 L299.9,1356.3 L300.0,1352.0 L300.1,1347.7 L300.3,1343.5 L300.4,1339.2 L300.5,1334.9 L300.6,1330.6 L300.7,1326.3 L300.8,1322.0 L300.9,1317.8 L301.0,1313.5 L301.2,1309.2 L301.3,1304.9 L301.4,1300.6 L301.5,1296.3 L301.6,1292.1 L301.8,1287.8 L301.9,1283.5 L302.0,1279.2 L302.2,1274.9 L302.3,1270.6 L302.4,1266.4 L302.6,1262.1 L302.8,1257.8 L302.9,1253.5 L303.1,1249.2 L303.3,1245.0 L303.4,1240.7 L303.6,1236.4 L303.8,1232.1 L304.0,1227.8 L304.2,1223.5 L304.4,1219.3 L304.7,1215.0 L304.9,1210.7 L305.1,1206.4 L305.4,1202.1 L305.7,1197.9 L305.9,1193.6 L306.2,1189.3 L306.5,1185.0 L306.8,1180.7 L307.1,1176.5 L307.5,1172.2 L307.8,1167.9 L308.2,1163.6 L308.5,1159.3 L308.9,1155.1 L309.3,1150.8 L309.7,1146.5 L310.1,1142.2 L310.6,1138.0 L311.0,1133.7 L311.5,1129.4 L312.0,1125.1 L312.5,1120.9 L313.0,1116.6 L313.5,1112.3 L314.1,1108.0 L314.7,1103.8 L315.3,1099.5 L315.9,1095.3 L316.5,1091.0 L317.2,1086.8 L317.9,1082.5 L318.7,1078.3 L319.4,1074.1 L320.2,1069.8 L321.1,1065.6 L322.0,1061.4 L322.9,1057.2 L323.8,1053.1 L324.8,1048.9 L325.8,1044.7 L326.9,1040.6 L328.0,1036.4 L329.1,1032.3 L330.3,1028.2 L331.6,1024.1 L332.9,1020.0 L334.2,1016.0 L335.6,1011.9 L337.0,1007.9 L338.5,1003.9 L340.0,999.9 L341.6,995.9 L343.2,991.9 L344.8,988.0 L346.5,984.1 L348.2,980.2 L350.0,976.3 L351.8,972.4 L353.7,968.5 L355.6,964.7 L357.5,960.9 L359.5,957.1 L361.5,953.3 L363.6,949.6 L365.7,945.9 L367.8,942.2 L370.0,938.5 L372.2,934.8 L374.5,931.2 L376.8,927.6 L379.1,924.0 L381.5,920.4 L383.9,916.9 L386.3,913.4 L388.8,909.9 L391.4,906.4 L393.9,903.0 L396.5,899.6 L399.1,896.2 L401.8,892.8 L404.5,889.5 L407.3,886.2 L410.0,882.9 L412.8,879.7 L415.7,876.5 L418.6,873.3 L421.5,870.2 L424.4,867.0 L427.4,863.9 L430.4,860.9 L433.5,857.9 L436.5,854.9 L439.7,851.9 L442.8,849.0 L446.0,846.1 L449.2,843.2 L452.4,840.4 L455.6,837.6 L458.9,834.8 L462.2,832.0 L465.6,829.3 L468.9,826.6 L472.3,824.0 L475.7,821.4 L479.2,818.8 L482.6,816.2 L486.1,813.7 L489.6,811.2 L493.1,808.8 L496.7,806.3 L500.2,803.9 L503.8,801.5 L507.4,799.2 L511.0,796.9 L514.7,794.6 L518.3,792.4 L522.0,790.1 L525.7,787.9 L529.4,785.8 L533.1,783.6 L536.8,781.5 L540.6,779.4 L544.3,777.3 L548.1,775.3 L551.9,773.2 L555.6,771.2 L559.4,769.3 L563.2,767.3 L567.0,765.3 L570.9,763.4 L574.7,761.5 L578.5,759.6 L582.4,757.8 L586.2,756.0 L590.1,754.1 L594.0,752.3 L597.8,750.6 L601.7,748.8 L605.6,747.1 L609.5,745.4 L613.4,743.7 L617.4,742.0 L621.3,740.3 L625.2,738.7 L629.2,737.1 L633.1,735.4 L637.1,733.9 L641.0,732.3 L645.0,730.7 L649.0,729.2 L653.0,727.7 L657.0,726.2 L661.0,724.7 L665.0,723.3 L669.0,721.8 L673.0,720.4 L677.0,719.0 L681.1,717.6 L685.1,716.2 L689.2,714.8 L693.2,713.5 L697.3,712.2 L701.3,710.9 L705.4,709.6 L709.5,708.3 L713.6,707.0 L717.7,705.7 L721.8,704.5 L725.9,703.3 L730.0,702.1 L734.1,700.9 L738.2,699.7 L742.3,698.5 L746.4,697.4 L750.6,696.2 L754.7,695.1 L758.8,694.0 L763.0,692.9 L767.1,691.8 L771.3,690.7 L775.4,689.7 L779.6,688.6 L783.8,687.6 L787.9,686.6 L792.1,685.6 L796.3,684.6 L800.5,683.6 L804.6,682.6 L808.8,681.6 L813.0,680.7 L817.2,679.7 L821.4,678.8 L825.6,677.9 L829.8,677.0 L834.0,676.1 L838.2,675.2 L842.4,674.3 L846.6,673.4 L850.9,672.6 L855.1,671.7 L859.3,670.9 L863.5,670.0 L867.8,669.2 L872.0,668.4 L876.2,667.6 L880.4,666.8 L884.7,666.0 L888.9,665.2 L893.1,664.4 L897.4,663.7 L901.6,662.9 L905.9,662.1 L910.1,661.4 L914.4,660.7 L918.6,659.9 L922.8,659.2 L927.1,658.5 L931.3,657.8 L935.6,657.1 L939.8,656.4 L944.1,655.7 L948.3,655.0 L952.6,654.3 L956.8,653.6 L961.1,653.0 L965.3,652.3 L969.6,651.6 L973.8,651.0 L978.1,650.3 L982.3,649.7 L986.6,649.1 L990.8,648.4 L995.1,647.8 L999.3,647.2 L1003.6,646.6 L1007.8,646.0 L1012.1,645.4 L1016.3,644.8 L1020.6,644.2 L1024.8,643.6 L1029.1,643.0 L1033.3,642.4 L1037.6,641.8 L1041.9,641.3 L1046.1,640.7 L1050.4,640.1 L1054.6,639.6 L1058.9,639.0 L1063.1,638.5 L1067.4,638.0 L1071.6,637.4 L1075.9,636.9 L1080.2,636.4 L1084.4,635.9 L1088.7,635.3 L1092.9,634.8 L1097.2,634.3 L1101.4,633.8 L1105.7,633.3 L1110.0,632.8 L1114.2,632.4 L1118.5,631.9 L1122.7,631.4 L1127.0,630.9 L1131.2,630.5 L1135.5,630.0 L1139.8,629.6 L1144.0,629.1 L1148.3,628.7 L1152.5,628.2 L1156.8,627.8 L1161.1,627.4 L1165.3,626.9 L1169.6,626.5 L1173.9,626.1 L1178.1,625.7 L1182.4,625.3 L1186.6,624.9 L1190.9,624.5 L1195.2,624.1 L1199.4,623.7 L1203.7,623.3 L1208.0,622.9 L1212.2,622.5 L1216.5,622.2 L1220.8,621.8 L1225.0,621.4 L1229.3,621.1 L1233.6,620.7 L1237.8,620.4 L1242.1,620.0 L1246.3,619.7 L1250.6,619.3 L1254.9,619.0 L1259.2,618.7 L1263.4,618.3 L1267.7,618.0 L1272.0,617.7 L1276.2,617.4 L1280.5,617.1 L1284.8,616.8 L1289.0,616.5 L1293.3,616.2 L1297.6,615.9 L1301.8,615.6 L1306.1,615.3 L1310.4,615.0 L1314.7,614.7 L1318.9,614.5 L1323.2,614.2 L1327.5,613.9 L1331.7,613.7 L1336.0,613.4 L1340.3,613.2 L1344.6,612.9 L1348.8,612.7 L1353.1,612.4 L1357.4,612.2 L1361.6,611.9 L1365.9,611.7 L1370.2,611.5 L1374.5,611.3 L1378.7,611.0 L1383.0,610.8 L1387.3,610.6 L1391.6,610.4 L1395.9,610.2 L1400.1,610.0 L1404.4,609.8 L1408.7,609.6 L1413.0,609.4 L1417.2,609.2 L1421.5,609.0 L1425.8,608.9 L1430.1,608.7 L1434.4,608.5 L1438.6,608.3 L1442.9,608.2 L1447.2,608.0 L1451.5,607.8 L1455.8,607.7 L1460.0,607.5 L1464.3,607.4 L1468.6,607.2 L1472.9,607.1 L1477.2,606.9 L1481.4,606.8 L1485.7,606.7 L1490.0,606.5 L1494.3,606.4 L1498.6,606.3 L1502.9,606.2 L1507.1,606.1 L1511.4,605.9 L1515.7,605.8 L1520.0,605.7 L1524.3,605.6 L1528.6,605.5 L1532.9,605.4 L1537.1,605.3 L1541.4,605.2 L1545.7,605.1 L1550.0,605.0 L1554.3,605.0 L1558.6,604.9 L1562.9,604.8 L1567.2,604.7 L1571.4,604.6 L1575.7,604.6 L1580.0,604.5 L1584.3,604.4 L1588.6,604.4 L1592.9,604.3 L1597.2,604.3 L1601.5,604.2 L1605.8,604.1 L1610.1,604.1 L1614.4,604.1 L1618.6,604.0 L1622.9,604.0 L1627.2,603.9 L1631.5,603.9 L1635.8,603.9 L1640.1,603.8 L1644.4,603.8 L1648.7,603.8 L1653.0,603.8 L1657.3,603.7 L1661.6,603.7 L1665.9,603.7 L1670.2,603.7 L1674.5,603.7 L1678.8,603.7 L1683.1,603.7 L1687.4,603.7 L1691.7,603.7 L1696.0,603.7 L1700.3,603.7 L1704.6,603.7 L1708.9,603.7 L1713.2,603.7 L1717.5,603.7 L1721.8,603.7 L1726.1,603.7 L1730.4,603.7 L1734.7,603.8 L1739.0,603.8 L1743.3,603.8 L1747.6,603.8 L1751.9,603.9 L1756.2,603.9" stroke="#E36C09"/>
<path d="M264.0,1592.0 L294.5,1592.0 L295.0,1591.8 L295.3,1587.4 L295.6,1583.0 L295.9,1578.6 L296.2,1574.2 L296.4,1569.8 L296.7,1565.4 L297.0,1560.9 L297.2,1556.5 L297.5,1552.1 L297.7,1547.7 L298.0,1543.3 L298.2,1538.9 L298.4,1534.4 L298.7,1530.0 L298.9,1525.6 L299.1,1521.2 L299.4,1516.7 L299.6,1512.3 L299.8,1507.9 L300.1,1503.4 L300.3,1499.0 L300.5,1494.5 L300.7,1490.1 L300.9,1485.7 L301.2,1481.2 L301.4,1476.8 L301.6,1472.3 L301.8,1467.9 L302.0,1463.4 L302.2,1459.0 L302.5,1454.5 L302.7,1450.1 L302.9,1445.6 L303.1,1441.2 L303.4,1436.7 L303.6,1432.3 L303.8,1427.8 L304.0,1423.4 L304.3,1418.9 L304.5,1414.5 L304.7,1410.0 L305.0,1405.6 L305.2,1401.1 L305.5,1396.7 L305.7,1392.2 L306.0,1387.7 L306.2,1383.3 L306.5,1378.8 L306.7,1374.4 L307.0,1369.9 L307.3,1365.5 L307.6,1361.0 L307.9,1356.6 L308.2,1352.1 L308.4,1347.7 L308.8,1343.2 L309.1,1338.7 L309.4,1334.3 L309.7,1329.8 L310.0,1325.4 L310.4,1320.9 L310.7,1316.5 L311.0,1312.0 L311.4,1307.6 L311.8,1303.2 L312.1,1298.7 L312.5,1294.3 L312.9,1289.8 L313.3,1285.4 L313.7,1280.9 L314.1,1276.5 L314.6,1272.1 L315.0,1267.6 L315.4,1263.2 L315.9,1258.8 L316.3,1254.3 L316.8,1249.9 L317.3,1245.5 L317.8,1241.1 L318.3,1236.6 L318.8,1232.2 L319.4,1227.8 L319.9,1223.4 L320.4,1219.0 L321.0,1214.6 L321.6,1210.1 L322.2,1205.7 L322.8,1201.3 L323.4,1196.9 L324.0,1192.5 L324.6,1188.1 L325.3,1183.7 L326.0,1179.4 L326.6,1175.0 L327.3,1170.6 L328.0,1166.2 L328.8,1161.8 L329.5,1157.4 L330.3,1153.1 L331.0,1148.7 L331.8,1144.3 L332.6,1140.0 L333.4,1135.6 L334.2,1131.2 L335.1,1126.9 L335.9,1122.5 L336.8,1118.2 L337.7,1113.8 L338.6,1109.5 L339.6,1105.1 L340.5,1100.8 L341.5,1096.5 L342.4,1092.2 L343.4,1087.8 L344.5,1083.5 L345.5,1079.2 L346.6,1074.9 L347.6,1070.6 L348.7,1066.3 L349.8,1062.0 L351.0,1057.7 L352.1,1053.4 L353.3,1049.1 L354.5,1044.8 L355.7,1040.6 L356.9,1036.3 L358.2,1032.0 L359.4,1027.8 L360.7,1023.5 L362.1,1019.3 L363.4,1015.0 L364.7,1010.8 L366.1,1006.5 L367.5,1002.3 L368.9,998.1 L370.4,993.9 L371.9,989.7 L373.3,985.5 L374.8,981.3 L376.4,977.1 L377.9,972.9 L379.5,968.7 L381.1,964.6 L382.7,960.4 L384.4,956.3 L386.0,952.1 L387.7,948.0 L389.4,943.9 L391.2,939.8 L392.9,935.7 L394.7,931.6 L396.5,927.5 L398.3,923.4 L400.2,919.4 L402.0,915.3 L403.9,911.3 L405.8,907.3 L407.8,903.3 L409.8,899.3 L411.7,895.3 L413.7,891.3 L415.8,887.3 L417.8,883.4 L419.9,879.5 L422.0,875.5 L424.2,871.6 L426.3,867.7 L428.5,863.9 L430.7,860.0 L432.9,856.1 L435.2,852.3 L437.5,848.5 L439.8,844.7 L442.1,840.9 L444.4,837.1 L446.8,833.4 L449.2,829.6 L451.7,825.9 L454.1,822.2 L456.6,818.5 L459.1,814.8 L461.6,811.2 L464.2,807.5 L466.7,803.9 L469.4,800.3 L472.0,796.7 L474.6,793.2 L477.3,789.6 L480.0,786.1 L482.7,782.6 L485.5,779.1 L488.3,775.6 L491.0,772.2 L493.9,768.7 L496.7,765.3 L499.6,761.9 L502.5,758.6 L505.4,755.2 L508.3,751.9 L511.3,748.6 L514.3,745.3 L517.3,742.0 L520.3,738.7 L523.4,735.5 L526.4,732.3 L529.5,729.1 L532.7,725.9 L535.8,722.8 L539.0,719.7 L542.1,716.5 L545.3,713.5 L548.6,710.4 L551.8,707.3 L555.1,704.3 L558.3,701.3 L561.6,698.3 L564.9,695.3 L568.3,692.4 L571.6,689.4 L575.0,686.5 L578.4,683.6 L581.8,680.8 L585.2,677.9 L588.6,675.1 L592.1,672.3 L595.6,669.5 L599.0,666.7 L602.6,664.0 L606.1,661.2 L609.6,658.5 L613.1,655.8 L616.7,653.2 L620.3,650.5 L623.9,647.9 L627.5,645.3 L631.1,642.7 L634.7,640.1 L638.4,637.5 L642.0,635.0 L645.7,632.5 L649.4,630.0 L653.1,627.5 L656.8,625.1 L660.5,622.6 L664.2,620.2 L667.9,617.8 L671.7,615.4 L675.5,613.1 L679.2,610.7 L683.0,608.4 L686.8,606.1 L690.6,603.8 L694.4,601.6 L698.2,599.3 L702.1,597.1 L705.9,594.9 L709.8,592.7 L713.7,590.5 L717.5,588.3 L721.4,586.2 L725.3,584.1 L729.2,582.0 L733.1,579.9 L737.1,577.8 L741.0,575.8 L744.9,573.7 L748.9,571.7 L752.8,569.7 L756.8,567.7 L760.8,565.7 L764.8,563.8 L768.8,561.9 L772.8,559.9 L776.8,558.0 L780.8,556.1 L784.9,554.3 L788.9,552.4 L792.9,550.6 L797.0,548.8 L801.1,546.9 L805.1,545.2 L809.2,543.4 L813.3,541.6 L817.4,539.9 L821.5,538.1 L825.6,536.4 L829.7,534.7 L833.8,533.0 L837.9,531.3 L842.1,529.7 L846.2,528.0 L850.4,526.4 L854.5,524.8 L858.7,523.2 L862.8,521.6 L867.0,520.0 L871.2,518.5 L875.4,516.9 L879.6,515.4 L883.7,513.9 L887.9,512.3 L892.1,510.8 L896.4,509.4 L900.6,507.9 L904.8,506.4 L909.0,505.0 L913.3,503.6 L917.5,502.1 L921.7,500.7 L926.0,499.3 L930.2,498.0 L934.5,496.6 L938.7,495.2 L943.0,493.9 L947.3,492.5 L951.5,491.2 L955.8,489.9 L960.1,488.6 L964.4,487.3 L968.6,486.0 L972.9,484.8 L977.2,483.5 L981.5,482.3 L985.8,481.0 L990.1,479.8 L994.4,478.6 L998.7,477.4 L1003.0,476.2 L1007.3,475.0 L1011.6,473.8 L1016.0,472.7 L1020.3,471.5 L1024.6,470.4 L1028.9,469.2 L1033.2,468.1 L1037.6,467.0 L1041.9,465.9 L1046.2,464.8 L1050.5,463.7 L1054.9,462.6 L1059.2,461.5 L1063.5,460.5 L1067.9,459.4 L1072.2,458.4 L1076.5,457.3 L1080.9,456.3 L1085.2,455.3 L1089.6,454.3 L1093.9,453.3 L1098.2,452.3 L1102.6,451.3 L1106.9,450.3 L1111.3,449.3 L1115.6,448.4 L1120.0,447.4 L1124.3,446.5 L1128.7,445.5 L1133.0,444.6 L1137.4,443.7 L1141.7,442.8 L1146.1,441.9 L1150.4,441.0 L1154.8,440.1 L1159.2,439.2 L1163.5,438.4 L1167.9,437.5 L1172.3,436.7 L1176.6,435.8 L1181.0,435.0 L1185.4,434.1 L1189.7,433.3 L1194.1,432.5 L1198.5,431.7 L1202.8,430.9 L1207.2,430.1 L1211.6,429.3 L1216.0,428.6 L1220.3,427.8 L1224.7,427.0 L1229.1,426.3 L1233.5,425.5 L1237.8,424.8 L1242.2,424.1 L1246.6,423.4 L1251.0,422.6 L1255.4,421.9 L1259.8,421.2 L1264.1,420.5 L1268.5,419.9 L1272.9,419.2 L1277.3,418.5 L1281.7,417.8 L1286.1,417.2 L1290.5,416.5 L1294.9,415.9 L1299.3,415.3 L1303.7,414.6 L1308.1,414.0 L1312.5,413.4 L1316.9,412.8 L1321.3,412.2 L1325.7,411.6 L1330.1,411.0 L1334.5,410.5 L1338.9,409.9 L1343.3,409.3 L1347.7,408.8 L1352.1,408.2 L1356.5,407.7 L1360.9,407.1 L1365.3,406.6 L1369.7,406.1 L1374.1,405.6 L1378.5,405.1 L1383.0,404.6 L1387.4,404.1 L1391.8,403.6 L1396.2,403.1 L1400.6,402.6 L1405.0,402.1 L1409.4,401.7 L1413.9,401.2 L1418.3,400.8 L1422.7,400.3 L1427.1,399.9 L1431.5,399.4 L1436.0,399.0 L1440.4,398.6 L1444.8,398.2 L1449.2,397.8 L1453.7,397.4 L1458.1,397.0 L1462.5,396.6 L1467.0,396.2 L1471.4,395.8 L1475.8,395.4 L1480.2,395.1 L1484.7,394.7 L1489.1,394.4 L1493.5,394.0 L1498.0,393.7 L1502.4,393.3 L1506.8,393.0 L1511.3,392.7 L1515.7,392.3 L1520.1,392.0 L1524.6,391.7 L1529.0,391.4 L1533.5,391.1 L1537.9,390.8 L1542.3,390.5 L1546.8,390.2 L1551.2,390.0 L1555.7,389.7 L1560.1,389.4 L1564.6,389.2 L1569.0,388.9 L1573.4,388.7 L1577.9,388.4 L1582.3,388.2 L1586.8,387.9 L1591.2,387.7 L1595.7,387.5 L1600.1,387.3 L1604.6,387.0 L1609.0,386.8 L1613.5,386.6 L1617.9,386.4 L1622.4,386.2 L1626.8,386.0 L1631.3,385.9 L1635.7,385.7 L1640.2,385.5 L1644.7,385.3 L1649.1,385.2 L1653.6,385.0 L1658.0,384.8 L1662.5,384.7 L1666.9,384.5 L1671.4,384.4 L1675.9,384.3 L1680.3,384.1 L1684.8,384.0 L1689.2,383.9 L1693.7,383.7 L1698.2,383.6 L1702.6,383.5 L1707.1,383.4 L1711.5,383.3 L1716.0,383.2 L1720.5,383.1 L1724.9,383.0 L1729.4,382.9 L1733.9,382.8 L1738.3,382.8 L1742.8,382.7 L1747.3,382.6 L1751.7,382.5 L1756.2,382.5" stroke="#00B0F0"/>
<path d="M264.0,1592.0 L298.4,1592.0 L298.9,1591.9 L299.2,1587.7 L299.6,1583.4 L299.9,1579.2 L300.3,1574.9 L300.6,1570.7 L301.0,1566.4 L301.3,1562.2 L301.7,1557.9 L302.0,1553.7 L302.3,1549.4 L302.7,1545.1 L303.0,1540.9 L303.4,1536.6 L303.7,1532.4 L304.0,1528.1 L304.4,1523.8 L304.7,1519.6 L305.0,1515.3 L305.3,1511.1 L305.7,1506.8 L306.0,1502.5 L306.3,1498.3 L306.7,1494.0 L307.0,1489.7 L307.3,1485.5 L307.7,1481.2 L308.0,1476.9 L308.3,1472.7 L308.7,1468.4 L309.0,1464.1 L309.3,1459.9 L309.7,1455.6 L310.0,1451.3 L310.4,1447.1 L310.7,1442.8 L311.1,1438.5 L311.4,1434.3 L311.8,1430.0 L312.1,1425.7 L312.5,1421.4 L312.8,1417.2 L313.2,1412.9 L313.5,1408.6 L313.9,1404.4 L314.3,1400.1 L314.7,1395.8 L315.0,1391.6 L315.4,1387.3 L315.8,1383.0 L316.2,1378.8 L316.6,1374.5 L317.0,1370.2 L317.4,1366.0 L317.8,1361.7 L318.2,1357.4 L318.6,1353.2 L319.0,1348.9 L319.4,1344.6 L319.9,1340.4 L320.3,1336.1 L320.7,1331.9 L321.2,1327.6 L321.6,1323.3 L322.1,1319.1 L322.6,1314.8 L323.0,1310.6 L323.5,1306.3 L324.0,1302.1 L324.5,1297.8 L325.0,1293.6 L325.4,1289.3 L326.0,1285.1 L326.5,1280.8 L327.0,1276.6 L327.5,1272.3 L328.0,1268.1 L328.6,1263.8 L329.1,1259.6 L329.7,1255.3 L330.3,1251.1 L330.8,1246.9 L331.4,1242.6 L332.0,1238.4 L332.6,1234.1 L333.2,1229.9 L333.8,1225.7 L334.4,1221.5 L335.1,1217.2 L335.7,1213.0 L336.4,1208.8 L337.0,1204.6 L337.7,1200.3 L338.4,1196.1 L339.1,1191.9 L339.7,1187.7 L340.5,1183.5 L341.2,1179.3 L341.9,1175.0 L342.6,1170.8 L343.4,1166.6 L344.1,1162.4 L344.9,1158.2 L345.7,1154.0 L346.5,1149.8 L347.3,1145.6 L348.1,1141.4 L348.9,1137.2 L349.8,1133.1 L350.6,1128.9 L351.5,1124.7 L352.3,1120.5 L353.2,1116.3 L354.1,1112.1 L355.0,1108.0 L356.0,1103.8 L356.9,1099.6 L357.8,1095.5 L358.8,1091.3 L359.8,1087.1 L360.8,1083.0 L361.7,1078.8 L362.8,1074.7 L363.8,1070.5 L364.8,1066.4 L365.9,1062.2 L366.9,1058.1 L368.0,1054.0 L369.1,1049.8 L370.2,1045.7 L371.4,1041.6 L372.5,1037.4 L373.7,1033.3 L374.9,1029.2 L376.1,1025.1 L377.3,1021.0 L378.6,1016.9 L379.9,1012.9 L381.3,1008.8 L382.6,1004.7 L384.0,1000.7 L385.5,996.7 L386.9,992.6 L388.4,988.6 L390.0,984.6 L391.6,980.7 L393.2,976.7 L394.9,972.8 L396.6,968.8 L398.4,964.9 L400.2,961.0 L402.0,957.1 L403.9,953.2 L405.8,949.4 L407.7,945.6 L409.7,941.7 L411.7,938.0 L413.7,934.2 L415.8,930.4 L417.9,926.7 L420.0,922.9 L422.1,919.2 L424.3,915.6 L426.5,911.9 L428.7,908.3 L431.0,904.6 L433.2,901.0 L435.5,897.5 L437.8,893.9 L440.2,890.4 L442.5,886.9 L445.0,883.5 L447.5,880.1 L450.0,876.8 L452.7,873.6 L455.5,870.4 L458.3,867.3 L461.1,864.2 L464.0,861.2 L466.9,858.1 L469.9,855.0 L472.8,851.9 L475.8,848.8 L478.7,845.7 L481.7,842.6 L484.7,839.6 L487.7,836.5 L490.7,833.4 L493.7,830.3 L496.8,827.3 L499.8,824.3 L502.9,821.3 L506.0,818.3 L509.1,815.3 L512.3,812.4 L515.4,809.5 L518.6,806.6 L521.8,803.7 L525.0,800.9 L528.2,798.1 L531.5,795.3 L534.8,792.5 L538.0,789.7 L541.3,787.0 L544.6,784.3 L548.0,781.6 L551.3,778.9 L554.7,776.3 L558.0,773.6 L561.4,771.0 L564.8,768.4 L568.2,765.9 L571.7,763.3 L575.1,760.8 L578.6,758.3 L582.1,755.8 L585.6,753.4 L589.1,750.9 L592.6,748.5 L596.1,746.1 L599.7,743.7 L603.2,741.3 L606.8,739.0 L610.4,736.7 L614.0,734.4 L617.6,732.1 L621.2,729.8 L624.8,727.6 L628.5,725.3 L632.1,723.1 L635.8,721.0 L639.5,718.8 L643.2,716.6 L646.9,714.5 L650.6,712.4 L654.3,710.3 L658.1,708.2 L661.8,706.1 L665.6,704.1 L669.3,702.1 L673.1,700.1 L676.9,698.1 L680.7,696.1 L684.5,694.1 L688.3,692.2 L692.1,690.3 L696.0,688.4 L699.8,686.5 L703.6,684.6 L707.5,682.8 L711.4,680.9 L715.2,679.1 L719.1,677.3 L723.0,675.5 L726.9,673.8 L730.8,672.0 L734.7,670.3 L738.6,668.6 L742.6,666.8 L746.5,665.2 L750.4,663.5 L754.4,661.8 L758.3,660.2 L762.3,658.6 L766.2,656.9 L770.2,655.3 L774.2,653.8 L778.1,652.2 L782.1,650.6 L786.1,649.1 L790.1,647.6 L794.1,646.1 L798.1,644.6 L802.1,643.1 L806.1,641.6 L810.2,640.2 L814.2,638.7 L818.2,637.3 L822.3,635.9 L826.3,634.5 L830.3,633.1 L834.4,631.7 L838.4,630.4 L842.5,629.0 L846.6,627.7 L850.6,626.4 L854.7,625.1 L858.8,623.8 L862.9,622.5 L867.0,621.2 L871.0,620.0 L875.1,618.7 L879.2,617.5 L883.3,616.3 L887.4,615.1 L891.6,613.9 L895.7,612.7 L899.8,611.5 L903.9,610.3 L908.0,609.2 L912.2,608.1 L916.3,606.9 L920.4,605.8 L924.6,604.7 L928.7,603.6 L932.8,602.5 L937.0,601.4 L941.1,600.4 L945.3,599.3 L949.4,598.3 L953.6,597.2 L957.8,596.2 L961.9,595.2 L966.1,594.2 L970.3,593.2 L974.4,592.2 L978.6,591.2 L982.8,590.2 L986.9,589.3 L991.1,588.3 L995.3,587.4 L999.5,586.4 L1003.7,585.5 L1007.9,584.6 L1012.0,583.7 L1016.2,582.7 L1020.4,581.9 L1024.6,581.0 L1028.8,580.1 L1033.0,579.2 L1037.2,578.3 L1041.4,577.5 L1045.6,576.6 L1049.8,575.8 L1054.0,575.0 L1058.2,574.1 L1062.4,573.3 L1066.6,572.5 L1070.8,571.7 L1075.0,570.9 L1079.2,570.1 L1083.4,569.3 L1087.6,568.5 L1091.8,567.7 L1096.1,567.0 L1100.3,566.2 L1104.5,565.5 L1108.7,564.7 L1112.9,564.0 L1117.1,563.2 L1121.3,562.5 L1125.6,561.8 L1129.8,561.1 L1134.0,560.4 L1138.2,559.7 L1142.4,559.0 L1146.7,558.3 L1150.9,557.6 L1155.1,556.9 L1159.3,556.3 L1163.6,555.6 L1167.8,554.9 L1172.0,554.3 L1176.2,553.6 L1180.5,553.0 L1184.7,552.4 L1188.9,551.8 L1193.2,551.1 L1197.4,550.5 L1201.6,549.9 L1205.9,549.3 L1210.1,548.7 L1214.3,548.1 L1218.6,547.5 L1222.8,547.0 L1227.0,546.4 L1231.3,545.8 L1235.5,545.3 L1239.7,544.7 L1244.0,544.2 L1248.2,543.6 L1252.5,543.1 L1256.7,542.6 L1261.0,542.0 L1265.2,541.5 L1269.4,541.0 L1273.7,540.5 L1277.9,540.0 L1282.2,539.5 L1286.4,539.0 L1290.7,538.5 L1294.9,538.0 L1299.2,537.5 L1303.4,537.1 L1307.7,536.6 L1311.9,536.1 L1316.2,535.7 L1320.4,535.2 L1324.7,534.8 L1328.9,534.4 L1333.2,533.9 L1337.4,533.5 L1341.7,533.1 L1345.9,532.7 L1350.2,532.2 L1354.5,531.8 L1358.7,531.4 L1363.0,531.0 L1367.2,530.6 L1371.5,530.2 L1375.7,529.9 L1380.0,529.5 L1384.3,529.1 L1388.5,528.7 L1392.8,528.4 L1397.0,528.0 L1401.3,527.6 L1405.6,527.3 L1409.8,527.0 L1414.1,526.6 L1418.4,526.3 L1422.6,525.9 L1426.9,525.6 L1431.1,525.3 L1435.4,525.0 L1439.7,524.6 L1443.9,524.3 L1448.2,524.0 L1452.5,523.7 L1456.7,523.4 L1461.0,523.1 L1465.3,522.8 L1469.6,522.6 L1473.8,522.3 L1478.1,522.0 L1482.4,521.7 L1486.6,521.5 L1490.9,521.2 L1495.2,520.9 L1499.4,520.7 L1503.7,520.4 L1508.0,520.2 L1512.3,519.9 L1516.5,519.7 L1520.8,519.5 L1525.1,519.2 L1529.3,519.0 L1533.6,518.8 L1537.9,518.6 L1542.2,518.3 L1546.4,518.1 L1550.7,517.9 L1555.0,517.7 L1559.3,517.5 L1563.5,517.3 L1567.8,517.1 L1572.1,516.9 L1576.4,516.7 L1580.6,516.5 L1584.9,516.4 L1589.2,516.2 L1593.5,516.0 L1597.7,515.8 L1602.0,515.7 L1606.3,515.5 L1610.6,515.3 L1614.9,515.2 L1619.1,515.0 L1623.4,514.9 L1627.7,514.7 L1632.0,514.6 L1636.2,514.4 L1640.5,514.3 L1644.8,514.1 L1649.1,514.0 L1653.3,513.9 L1657.6,513.8 L1661.9,513.6 L1666.2,513.5 L1670.5,513.4 L1674.7,513.3 L1679.0,513.2 L1683.3,513.0 L1687.6,512.9 L1691.9,512.8 L1696.1,512.7 L1700.4,512.6 L1704.7,512.5 L1709.0,512.4 L1713.2,512.3 L1717.5,512.3 L1721.8,512.2 L1726.1,512.1 L1730.4,512.0 L1734.6,511.9 L1738.9,511.8 L1743.2,511.8 L1747.5,511.7 L1751.7,511.6 L1756.0,511.6" stroke="#00B050"/>
<path d="M264.0,1592.0 L296.8,1592.0 L297.3,1591.8 L297.7,1587.4 L298.1,1583.1 L298.5,1578.7 L298.9,1574.3 L299.3,1570.0 L299.7,1565.6 L300.1,1561.2 L300.5,1556.9 L300.9,1552.5 L301.3,1548.1 L301.6,1543.7 L302.0,1539.4 L302.4,1535.0 L302.8,1530.6 L303.2,1526.2 L303.5,1521.8 L303.9,1517.5 L304.3,1513.1 L304.6,1508.7 L305.0,1504.3 L305.4,1499.9 L305.7,1495.5 L306.1,1491.1 L306.5,1486.7 L306.8,1482.4 L307.2,1478.0 L307.6,1473.6 L307.9,1469.2 L308.3,1464.8 L308.6,1460.4 L309.0,1456.0 L309.4,1451.6 L309.7,1447.2 L310.1,1442.8 L310.5,1438.4 L310.8,1434.0 L311.2,1429.6 L311.6,1425.2 L311.9,1420.8 L312.3,1416.4 L312.7,1412.0 L313.1,1407.6 L313.5,1403.2 L313.8,1398.8 L314.2,1394.4 L314.6,1390.0 L315.0,1385.6 L315.4,1381.2 L315.8,1376.8 L316.2,1372.4 L316.6,1368.0 L317.0,1363.6 L317.4,1359.2 L317.8,1354.9 L318.3,1350.5 L318.7,1346.1 L319.1,1341.7 L319.5,1337.3 L320.0,1332.9 L320.4,1328.5 L320.9,1324.1 L321.3,1319.7 L321.8,1315.3 L322.3,1310.9 L322.7,1306.5 L323.2,1302.1 L323.7,1297.7 L324.2,1293.3 L324.7,1289.0 L325.2,1284.6 L325.7,1280.2 L326.2,1275.8 L326.7,1271.4 L327.2,1267.0 L327.8,1262.7 L328.3,1258.3 L328.9,1253.9 L329.4,1249.5 L330.0,1245.1 L330.6,1240.8 L331.2,1236.4 L331.7,1232.0 L332.3,1227.7 L333.0,1223.3 L333.6,1218.9 L334.2,1214.6 L334.8,1210.2 L335.5,1205.8 L336.1,1201.5 L336.8,1197.1 L337.5,1192.7 L338.2,1188.4 L338.9,1184.0 L339.6,1179.7 L340.3,1175.3 L341.0,1171.0 L341.7,1166.6 L342.5,1162.3 L343.2,1158.0 L344.0,1153.6 L344.8,1149.3 L345.6,1144.9 L346.4,1140.6 L347.2,1136.3 L348.0,1132.0 L348.9,1127.6 L349.7,1123.3 L350.6,1119.0 L351.4,1114.7 L352.3,1110.3 L353.2,1106.0 L354.1,1101.7 L355.1,1097.4 L356.0,1093.1 L357.0,1088.8 L357.9,1084.5 L358.9,1080.2 L359.9,1075.9 L360.9,1071.6 L362.0,1067.3 L363.0,1063.0 L364.0,1058.8 L365.1,1054.5 L366.2,1050.2 L367.3,1045.9 L368.4,1041.7 L369.5,1037.4 L370.7,1033.1 L371.8,1028.9 L373.0,1024.6 L374.2,1020.4 L375.4,1016.1 L376.6,1011.9 L377.9,1007.6 L379.1,1003.4 L380.4,999.2 L381.7,994.9 L383.0,990.7 L384.4,986.5 L385.7,982.3 L387.1,978.1 L388.5,973.9 L389.9,969.7 L391.4,965.6 L392.8,961.4 L394.3,957.3 L395.8,953.1 L397.4,949.0 L398.9,944.9 L400.5,940.7 L402.1,936.6 L403.8,932.5 L405.4,928.5 L407.1,924.4 L408.8,920.3 L410.6,916.3 L412.3,912.3 L414.1,908.3 L416.0,904.3 L417.8,900.3 L419.7,896.3 L421.6,892.3 L423.6,888.4 L425.5,884.5 L427.5,880.6 L429.6,876.7 L431.6,872.8 L433.7,868.9 L435.9,865.1 L438.0,861.3 L440.2,857.5 L442.4,853.7 L444.6,849.9 L446.9,846.1 L449.2,842.4 L451.5,838.7 L453.9,835.0 L456.3,831.3 L458.7,827.6 L461.1,824.0 L463.6,820.3 L466.1,816.7 L468.6,813.1 L471.1,809.6 L473.7,806.0 L476.3,802.5 L478.9,799.0 L481.6,795.5 L484.3,792.0 L487.0,788.6 L489.7,785.1 L492.5,781.7 L495.3,778.3 L498.1,775.0 L500.9,771.6 L503.7,768.3 L506.6,765.0 L509.5,761.7 L512.5,758.4 L515.4,755.2 L518.4,752.0 L521.4,748.8 L524.4,745.6 L527.5,742.4 L530.5,739.3 L533.6,736.1 L536.7,733.0 L539.9,730.0 L543.0,726.9 L546.2,723.9 L549.4,720.8 L552.6,717.8 L555.9,714.8 L559.1,711.9 L562.4,708.9 L565.7,706.0 L569.0,703.1 L572.4,700.2 L575.7,697.4 L579.1,694.5 L582.5,691.7 L585.9,688.9 L589.3,686.1 L592.8,683.3 L596.2,680.6 L599.7,677.9 L603.2,675.2 L606.7,672.5 L610.3,669.8 L613.8,667.2 L617.4,664.5 L621.0,661.9 L624.6,659.3 L628.2,656.8 L631.8,654.2 L635.4,651.7 L639.1,649.2 L642.8,646.7 L646.5,644.2 L650.2,641.8 L653.9,639.3 L657.6,636.9 L661.3,634.5 L665.1,632.2 L668.8,629.8 L672.6,627.5 L676.4,625.2 L680.2,622.9 L684.0,620.6 L687.8,618.3 L691.7,616.1 L695.5,613.9 L699.4,611.7 L703.3,609.5 L707.1,607.3 L711.0,605.2 L714.9,603.1 L718.8,601.0 L722.7,598.9 L726.7,596.8 L730.6,594.8 L734.5,592.7 L738.5,590.7 L742.4,588.7 L746.4,586.8 L750.4,584.8 L754.4,582.9 L758.3,581.0 L762.3,579.1 L766.3,577.2 L770.3,575.3 L774.4,573.5 L778.4,571.7 L782.4,569.8 L786.4,568.1 L790.5,566.3 L794.5,564.5 L798.6,562.8 L802.6,561.1 L806.7,559.4 L810.8,557.7 L814.9,556.0 L819.0,554.4 L823.0,552.7 L827.1,551.1 L831.2,549.5 L835.3,547.9 L839.5,546.4 L843.6,544.8 L847.7,543.3 L851.8,541.7 L856.0,540.2 L860.1,538.7 L864.3,537.3 L868.4,535.8 L872.6,534.4 L876.7,532.9 L880.9,531.5 L885.1,530.1 L889.2,528.7 L893.4,527.3 L897.6,526.0 L901.8,524.6 L906.0,523.3 L910.2,522.0 L914.4,520.7 L918.6,519.4 L922.8,518.1 L927.0,516.8 L931.2,515.6 L935.5,514.3 L939.7,513.1 L943.9,511.9 L948.2,510.7 L952.4,509.5 L956.6,508.3 L960.9,507.1 L965.1,505.9 L969.4,504.8 L973.6,503.7 L977.9,502.5 L982.2,501.4 L986.4,500.3 L990.7,499.2 L995.0,498.1 L999.2,497.1 L1003.5,496.0 L1007.8,495.0 L1012.1,493.9 L1016.3,492.9 L1020.6,491.9 L1024.9,490.9 L1029.2,489.9 L1033.5,488.9 L1037.8,487.9 L1042.1,486.9 L1046.4,485.9 L1050.7,485.0 L1055.0,484.0 L1059.3,483.1 L1063.6,482.2 L1067.9,481.3 L1072.2,480.3 L1076.5,479.4 L1080.8,478.5 L1085.2,477.7 L1089.5,476.8 L1093.8,475.9 L1098.1,475.0 L1102.4,474.2 L1106.8,473.3 L1111.1,472.5 L1115.4,471.7 L1119.7,470.8 L1124.1,470.0 L1128.4,469.2 L1132.7,468.4 L1137.1,467.6 L1141.4,466.9 L1145.7,466.1 L1150.1,465.3 L1154.4,464.6 L1158.8,463.8 L1163.1,463.1 L1167.4,462.3 L1171.8,461.6 L1176.1,460.9 L1180.5,460.2 L1184.8,459.5 L1189.2,458.8 L1193.5,458.1 L1197.9,457.4 L1202.2,456.7 L1206.6,456.0 L1211.0,455.4 L1215.3,454.7 L1219.7,454.1 L1224.0,453.4 L1228.4,452.8 L1232.8,452.2 L1237.1,451.6 L1241.5,451.0 L1245.9,450.3 L1250.2,449.8 L1254.6,449.2 L1259.0,448.6 L1263.3,448.0 L1267.7,447.4 L1272.1,446.9 L1276.5,446.3 L1280.8,445.8 L1285.2,445.2 L1289.6,444.7 L1294.0,444.1 L1298.4,443.6 L1302.7,443.1 L1307.1,442.6 L1311.5,442.1 L1315.9,441.6 L1320.3,441.1 L1324.6,440.6 L1329.0,440.1 L1333.4,439.6 L1337.8,439.2 L1342.2,438.7 L1346.6,438.2 L1351.0,437.8 L1355.4,437.3 L1359.8,436.9 L1364.1,436.5 L1368.5,436.0 L1372.9,435.6 L1377.3,435.2 L1381.7,434.8 L1386.1,434.4 L1390.5,434.0 L1394.9,433.6 L1399.3,433.2 L1403.7,432.8 L1408.1,432.4 L1412.5,432.1 L1416.9,431.7 L1421.3,431.3 L1425.7,431.0 L1430.1,430.6 L1434.5,430.3 L1438.9,429.9 L1443.3,429.6 L1447.7,429.3 L1452.1,429.0 L1456.5,428.6 L1460.9,428.3 L1465.3,428.0 L1469.7,427.7 L1474.1,427.4 L1478.5,427.1 L1482.9,426.8 L1487.3,426.5 L1491.7,426.2 L1496.1,426.0 L1500.5,425.7 L1505.0,425.4 L1509.4,425.2 L1513.8,424.9 L1518.2,424.6 L1522.6,424.4 L1527.0,424.1 L1531.4,423.9 L1535.8,423.7 L1540.2,423.4 L1544.6,423.2 L1549.0,423.0 L1553.4,422.7 L1557.8,422.5 L1562.2,422.3 L1566.6,422.1 L1571.0,421.9 L1575.5,421.7 L1579.9,421.5 L1584.3,421.3 L1588.7,421.1 L1593.1,420.9 L1597.5,420.7 L1601.9,420.6 L1606.3,420.4 L1610.7,420.2 L1615.1,420.0 L1619.5,419.9 L1623.9,419.7 L1628.3,419.6 L1632.7,419.4 L1637.1,419.2 L1641.5,419.1 L1645.9,418.9 L1650.3,418.8 L1654.7,418.7 L1659.2,418.5 L1663.6,418.4 L1668.0,418.3 L1672.4,418.1 L1676.8,418.0 L1681.2,417.9 L1685.6,417.8 L1690.0,417.7 L1694.4,417.5 L1698.8,417.4 L1703.2,417.3 L1707.6,417.2 L1711.9,417.1 L1716.3,417.0 L1720.7,416.9 L1725.1,416.8 L1729.5,416.7 L1733.9,416.6 L1738.3,416.6 L1742.7,416.5 L1747.1,416.4 L1751.5,416.3 L1755.9,416.2" stroke="#00FF00"/>
</g>
<g fill="#000">
<circle cx="265.3" cy="1591.4" r="3.6"/>
<circle cx="269.7" cy="1580.6" r="3.6"/>
<circle cx="273.5" cy="1570.2" r="3.6"/>
<circle cx="277.1" cy="1559.4" r="3.6"/>
<circle cx="281.3" cy="1548.8" r="3.6"/>
<circle cx="285.4" cy="1538.3" r="3.6"/>
<circle cx="289.4" cy="1527.5" r="3.6"/>
<circle cx="293.1" cy="1516.7" r="3.6"/>
<circle cx="298.0" cy="1508.2" r="3.6"/>
<circle cx="305.9" cy="1503.0" r="3.6"/>
<circle cx="317.7" cy="1500.5" r="3.6"/>
<circle cx="329.6" cy="1500.0" r="3.6"/>
<circle cx="341.9" cy="1499.3" r="3.6"/>
<circle cx="354.4" cy="1498.9" r="3.6"/>
<circle cx="367.0" cy="1498.3" r="3.6"/>
<circle cx="379.5" cy="1497.9" r="3.6"/>
<circle cx="392.3" cy="1497.4" r="3.6"/>
<circle cx="404.8" cy="1496.9" r="3.6"/>
<circle cx="417.2" cy="1496.4" r="3.6"/>
<circle cx="429.8" cy="1495.9" r="3.6"/>
<circle cx="442.5" cy="1495.4" r="3.6"/>
<circle cx="455.3" cy="1494.9" r="3.6"/>
<circle cx="468.0" cy="1494.4" r="3.6"/>
<circle cx="480.7" cy="1494.0" r="3.6"/>
<circle cx="493.5" cy="1493.5" r="3.6"/>
<circle cx="506.2" cy="1493.1" r="3.6"/>
<circle cx="518.9" cy="1492.6" r="3.6"/>
<circle cx="531.7" cy="1492.2" r="3.6"/>
<circle cx="544.4" cy="1491.8" r="3.6"/>
<circle cx="557.1" cy="1491.3" r="3.6"/>
<circle cx="569.9" cy="1490.9" r="3.6"/>
<circle cx="582.6" cy="1490.5" r="3.6"/>
<circle cx="595.3" cy="1490.1" r="3.6"/>
<circle cx="608.1" cy="1489.7" r="3.6"/>
<circle cx="620.8" cy="1489.4" r="3.6"/>
<circle cx="633.5" cy="1489.0" r="3.6"/>
<circle cx="646.3" cy="1488.7" r="3.6"/>
<circle cx="659.0" cy="1488.4" r="3.6"/>
<circle cx="671.7" cy="1488.1" r="3.6"/>
<circle cx="684.5" cy="1487.8" r="3.6"/>
<circle cx="697.2" cy="1487.6" r="3.6"/>
<circle cx="709.9" cy="1487.3" r="3.6"/>
<circle cx="722.7" cy="1487.1" r="3.6"/>
<circle cx="735.4" cy="1486.9" r="3.6"/>
<circle cx="748.1" cy="1486.7" r="3.6"/>
<circle cx="760.9" cy="1486.5" r="3.6"/>
<circle cx="773.6" cy="1486.3" r="3.6"/>
<circle cx="786.4" cy="1486.1" r="3.6"/>
<circle cx="799.1" cy="1485.9" r="3.6"/>
<circle cx="811.8" cy="1485.7" r="3.6"/>
<circle cx="824.6" cy="1485.5" r="3.6"/>
<circle cx="837.3" cy="1485.3" r="3.6"/>
<circle cx="850.0" cy="1485.2" r="3.6"/>
<circle cx="862.8" cy="1485.0" r="3.6"/>
<circle cx="875.5" cy="1484.8" r="3.6"/>
<circle cx="888.2" cy="1484.7" r="3.6"/>
<circle cx="901.0" cy="1484.5" r="3.6"/>
<circle cx="913.7" cy="1484.4" r="3.6"/>
<circle cx="926.4" cy="1484.2" r="3.6"/>
<circle cx="939.2" cy="1484.0" r="3.6"/>
<circle cx="951.9" cy="1483.9" r="3.6"/>
<circle cx="964.6" cy="1483.7" r="3.6"/>
<circle cx="977.4" cy="1483.6" r="3.6"/>
<circle cx="990.1" cy="1483.4" r="3.6"/>
<circle cx="1002.8" cy="1483.2" r="3.6"/>
<circle cx="1015.6" cy="1483.1" r="3.6"/>
<circle cx="1028.3" cy="1482.9" r="3.6"/>
<circle cx="1041.0" cy="1482.7" r="3.6"/>
<circle cx="1053.8" cy="1482.5" r="3.6"/>
<circle cx="1066.5" cy="1482.4" r="3.6"/>
<circle cx="1079.2" cy="1482.2" r="3.6"/>
<circle cx="1092.0" cy="1482.0" r="3.6"/>
<circle cx="1104.7" cy="1481.8" r="3.6"/>
<circle cx="1117.4" cy="1481.6" r="3.6"/>
<circle cx="1130.2" cy="1481.4" r="3.6"/>
<circle cx="1142.9" cy="1481.3" r="3.6"/>
<circle cx="1155.6" cy="1481.1" r="3.6"/>
<circle cx="1168.4" cy="1480.9" r="3.6"/>
<circle cx="1181.1" cy="1480.7" r="3.6"/>
<circle cx="1193.8" cy="1480.5" r="3.6"/>
<circle cx="1206.6" cy="1480.3" r="3.6"/>
<circle cx="1219.3" cy="1480.1" r="3.6"/>
<circle cx="1232.0" cy="1480.0" r="3.6"/>
<circle cx="1244.8" cy="1479.8" r="3.6"/>
<circle cx="1257.5" cy="1479.6" r="3.6"/>
<circle cx="1270.2" cy="1479.4" r="3.6"/>
<circle cx="1283.0" cy="1479.2" r="3.6"/>
<circle cx="1295.7" cy="1479.1" r="3.6"/>
<circle cx="1308.4" cy="1478.9" r="3.6"/>
<circle cx="1321.2" cy="1478.7" r="3.6"/>
<circle cx="1333.9" cy="1478.6" r="3.6"/>
<circle cx="1346.6" cy="1478.4" r="3.6"/>
<circle cx="1359.4" cy="1478.2" r="3.6"/>
<circle cx="1372.1" cy="1478.1" r="3.6"/>
<circle cx="1384.8" cy="1477.9" r="3.6"/>
<circle cx="1397.6" cy="1477.8" r="3.6"/>
<circle cx="1410.3" cy="1477.6" r="3.6"/>
<circle cx="1423.1" cy="1477.5" r="3.6"/>
<circle cx="1435.8" cy="1477.3" r="3.6"/>
<circle cx="1448.5" cy="1477.2" r="3.6"/>
<circle cx="1461.3" cy="1477.1" r="3.6"/>
<circle cx="1474.0" cy="1476.9" r="3.6"/>
<circle cx="1486.7" cy="1476.8" r="3.6"/>
<circle cx="1499.5" cy="1476.7" r="3.6"/>
<circle cx="1512.2" cy="1476.5" r="3.6"/>
<circle cx="1524.9" cy="1476.4" r="3.6"/>
<circle cx="1537.7" cy="1476.3" r="3.6"/>
<circle cx="1550.4" cy="1476.1" r="3.6"/>
<circle cx="1563.1" cy="1476.0" r="3.6"/>
<circle cx="1575.9" cy="1475.9" r="3.6"/>
<circle cx="1588.6" cy="1475.7" r="3.6"/>
<circle cx="1601.3" cy="1475.6" r="3.6"/>
<circle cx="1614.1" cy="1475.5" r="3.6"/>
<circle cx="1626.8" cy="1475.4" r="3.6"/>
<circle cx="1639.5" cy="1475.2" r="3.6"/>
<circle cx="1652.3" cy="1475.1" r="3.6"/>
<circle cx="1665.0" cy="1475.0" r="3.6"/>
<circle cx="1677.7" cy="1474.9" r="3.6"/>
<circle cx="1690.5" cy="1474.7" r="3.6"/>
<circle cx="1703.2" cy="1474.6" r="3.6"/>
<circle cx="1715.9" cy="1474.5" r="3.6"/>
<circle cx="1728.7" cy="1474.3" r="3.6"/>
<circle cx="1741.4" cy="1474.2" r="3.6"/>
</g>
</g>
<polygon fill="#E36C09" points="350.2,444.7 350.2,911.2 340.2,911.2 355.5,939.1 370.8,911.2 360.8,911.2 360.8,444.7"/>
<polygon fill="#00B0F0" points="747.4,291.1 747.4,533.1 737.5,533.1 752.7,561.5 768.0,533.1 758.0,533.1 758.0,291.1"/>
<polygon fill="#FFC000" points="1086.3,263.9 1086.3,403.1 1076.3,403.1 1091.6,429.9 1106.8,403.1 1096.9,403.1 1096.9,263.9"/>
<polygon fill="#FF0000" points="1303.3,230.1 1303.3,471.2 1293.3,471.2 1308.6,500.0 1323.8,471.2 1313.9,471.2 1313.9,230.1"/>
<polygon fill="#00FF00" points="1464.3,226.8 1464.3,398.3 1454.3,398.3 1469.6,424.0 1484.8,398.3 1474.9,398.3 1474.9,226.8"/>
<polygon fill="#000" points="1668.3,186.0 1668.3,302.8 1658.3,302.8 1673.6,328.5 1688.8,302.8 1678.9,302.8 1678.9,186.0"/>
<polygon fill="#00B050" points="1620.5,676.6 1620.5,547.6 1630.5,547.6 1615.2,520.8 1600.0,547.6 1609.9,547.6 1609.9,676.6"/>
<polygon fill="#000" points="1420.1,783.6 1421.4,633.5 1431.3,633.6 1416.3,605.6 1400.8,633.4 1410.8,633.5 1409.5,783.6"/>
<polygon fill="#FF00FF" points="731.9,797.7 584.8,799.4 584.7,789.4 554.9,805.0 585.1,819.9 585.0,810.0 732.1,808.3"/>
<polygon fill="#000" points="1529.4,1331.6 1529.4,1449.1 1519.5,1449.1 1534.7,1474.5 1550.0,1449.1 1540.0,1449.1 1540.0,1331.6"/>
<defs><clipPath id="tc"><rect x="0" y="0" width="1753" height="1857"/></clipPath></defs>
<g fill="#000">
<text x="332.1" y="425.8" font-family="'Liberation Sans', Arial, sans-serif" font-weight="700" font-size="73.4" textLength="83.7" lengthAdjust="spacingAndGlyphs" stroke="#000" stroke-width="1.5" stroke-linejoin="round">S3</text>
<text x="720.0" y="272.2" font-family="'Liberation Sans', Arial, sans-serif" font-weight="700" font-size="73.4" textLength="84.4" lengthAdjust="spacingAndGlyphs" stroke="#000" stroke-width="1.5" stroke-linejoin="round">S4</text>
<text x="1059.0" y="244.2" font-family="'Liberation Sans', Arial, sans-serif" font-weight="700" font-size="73.4" textLength="84.7" lengthAdjust="spacingAndGlyphs" stroke="#000" stroke-width="1.5" stroke-linejoin="round">S8</text>
<text x="1279.0" y="208.3" font-family="'Liberation Sans', Arial, sans-serif" font-weight="700" font-size="73.4" textLength="84.5" lengthAdjust="spacingAndGlyphs" stroke="#000" stroke-width="1.5" stroke-linejoin="round">S7</text>
<text x="1435.5" y="217.6" font-family="'Liberation Sans', Arial, sans-serif" font-weight="700" font-size="73.4" textLength="83.5" lengthAdjust="spacingAndGlyphs" stroke="#000" stroke-width="1.5" stroke-linejoin="round">S6</text>
<g clip-path="url(#tc)"><text x="1569.5" y="168.8" font-family="'Liberation Sans', Arial, sans-serif" font-weight="700" font-size="73.4" textLength="186.8" lengthAdjust="spacingAndGlyphs" stroke="#000" stroke-width="1.5" stroke-linejoin="round">DETX</text></g>
<text x="1581.8" y="749.6" font-family="'Liberation Sans', Arial, sans-serif" font-weight="700" font-size="73.4" textLength="84.4" lengthAdjust="spacingAndGlyphs" stroke="#000" stroke-width="1.5" stroke-linejoin="round">S5</text>
<text x="1381.2" y="843.5" font-family="'Liberation Sans', Arial, sans-serif" font-weight="700" font-size="73.4" textLength="83.3" lengthAdjust="spacingAndGlyphs" stroke="#000" stroke-width="1.5" stroke-linejoin="round">S1</text>
<text x="741.2" y="824.6" font-family="'Liberation Sans', Arial, sans-serif" font-weight="700" font-size="73.4" textLength="84.2" lengthAdjust="spacingAndGlyphs" stroke="#000" stroke-width="1.5" stroke-linejoin="round">S2</text>
<g clip-path="url(#tc)"><text x="1353.8" y="1306.5" font-family="'Liberation Sans', Arial, sans-serif" font-weight="700" font-size="73.4" textLength="408.0" lengthAdjust="spacingAndGlyphs" stroke="#000" stroke-width="1.5" stroke-linejoin="round">REFERENCE</text></g>
<text y="1802.1" font-family="'Liberation Sans', Arial, sans-serif" font-weight="700" font-size="74.4" stroke="#000" stroke-width="0.8" stroke-linejoin="round"><tspan x="889.1" textLength="176.5" lengthAdjust="spacingAndGlyphs">Time</tspan> <tspan x="1089.7" textLength="85.9" lengthAdjust="spacingAndGlyphs">[s]</tspan></text>
<g transform="translate(100.5,1026.2) rotate(-90)"><text y="-0.8" font-family="'Liberation Sans', Arial, sans-serif" font-weight="700" font-size="79.2" stroke="#000" stroke-width="1.5" stroke-linejoin="round"><tspan x="-2.2" textLength="363.9" lengthAdjust="spacingAndGlyphs">Conversion</tspan> <tspan x="406.8" textLength="97.2" lengthAdjust="spacingAndGlyphs">[%]</tspan></text></g>
<text transform="translate(201.8,86.7) scale(1.06,1)" font-family="'DejaVu Sans', 'Liberation Sans', sans-serif" font-size="57" letter-spacing="-2.8" text-anchor="end">40</text>
<text transform="translate(201.8,467.7) scale(1.06,1)" font-family="'DejaVu Sans', 'Liberation Sans', sans-serif" font-size="57" letter-spacing="-2.8" text-anchor="end">30</text>
<text transform="translate(201.8,848.8) scale(1.06,1)" font-family="'DejaVu Sans', 'Liberation Sans', sans-serif" font-size="57" letter-spacing="-2.8" text-anchor="end">20</text>
<text transform="translate(201.8,1229.6) scale(1.06,1)" font-family="'DejaVu Sans', 'Liberation Sans', sans-serif" font-size="57" letter-spacing="-2.8" text-anchor="end">10</text>
<text transform="translate(201.8,1610.6) scale(1.06,1)" font-family="'DejaVu Sans', 'Liberation Sans', sans-serif" font-size="57" letter-spacing="-2.8" text-anchor="end">0</text>
<text transform="translate(265.2,1697.2) scale(1.06,1)" font-family="'DejaVu Sans', 'Liberation Sans', sans-serif" font-size="57" letter-spacing="-2.8" text-anchor="middle">0</text>
<text transform="translate(451.1,1697.2) scale(1.06,1)" font-family="'DejaVu Sans', 'Liberation Sans', sans-serif" font-size="57" letter-spacing="-2.8" text-anchor="middle">100</text>
<text transform="translate(636.9,1697.2) scale(1.06,1)" font-family="'DejaVu Sans', 'Liberation Sans', sans-serif" font-size="57" letter-spacing="-2.8" text-anchor="middle">200</text>
<text transform="translate(822.8,1697.2) scale(1.06,1)" font-family="'DejaVu Sans', 'Liberation Sans', sans-serif" font-size="57" letter-spacing="-2.8" text-anchor="middle">300</text>
<text transform="translate(1008.6,1697.2) scale(1.06,1)" font-family="'DejaVu Sans', 'Liberation Sans', sans-serif" font-size="57" letter-spacing="-2.8" text-anchor="middle">400</text>
<text transform="translate(1194.5,1697.2) scale(1.06,1)" font-family="'DejaVu Sans', 'Liberation Sans', sans-serif" font-size="57" letter-spacing="-2.8" text-anchor="middle">500</text>
<text transform="translate(1380.3,1697.2) scale(1.06,1)" font-family="'DejaVu Sans', 'Liberation Sans', sans-serif" font-size="57" letter-spacing="-2.8" text-anchor="middle">600</text>
<text transform="translate(1566.2,1697.2) scale(1.06,1)" font-family="'DejaVu Sans', 'Liberation Sans', sans-serif" font-size="57" letter-spacing="-2.8" text-anchor="middle">700</text>
<text transform="translate(1752.0,1697.2) scale(1.06,1)" font-family="'DejaVu Sans', 'Liberation Sans', sans-serif" font-size="57" letter-spacing="-2.8" text-anchor="middle">800</text>
</g>
</svg>
</body></html>
